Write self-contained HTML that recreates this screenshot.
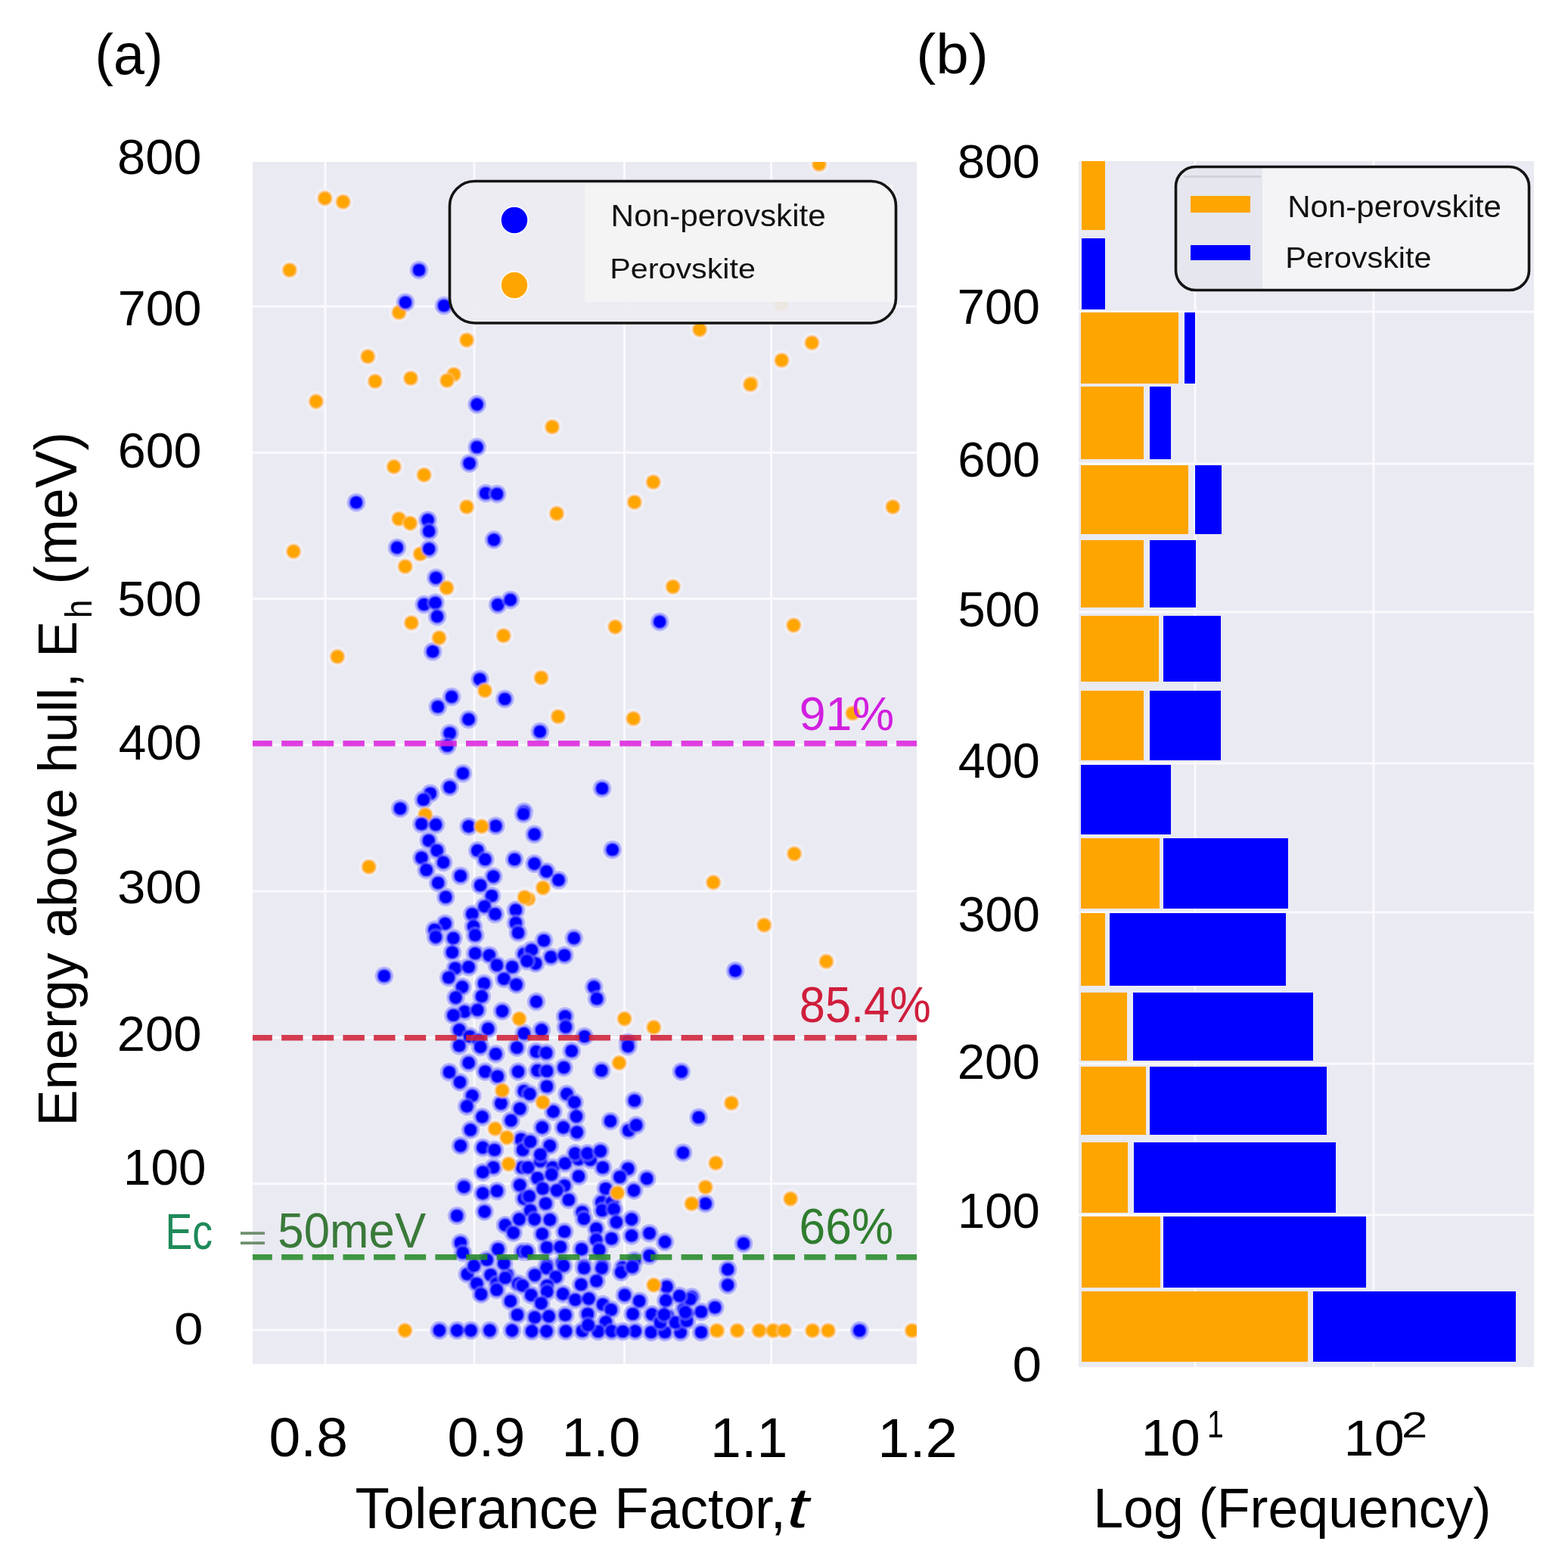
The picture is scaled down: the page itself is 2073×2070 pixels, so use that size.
<!DOCTYPE html><html><head><meta charset="utf-8"><title>Tolerance factor vs energy above hull</title><style>html,body{margin:0;padding:0;background:#fff;}svg{display:block;}</style></head><body>
<svg xmlns="http://www.w3.org/2000/svg" width="2073" height="2070" viewBox="0 0 2073 2070">
<rect width="2073" height="2070" fill="#ffffff"/>
<defs><clipPath id="ca"><rect x="334" y="214" width="878" height="1589"/></clipPath><filter id="blur1" x="-5%" y="-5%" width="110%" height="110%"><feGaussianBlur stdDeviation="1.1"/></filter><clipPath id="cb"><rect x="1426" y="213" width="602" height="1594"/></clipPath></defs>
<rect x="334" y="214" width="878" height="1589" fill="#eaeaf2"/>
<g stroke="#fafafd" stroke-width="3" clip-path="url(#ca)">
<line x1="430" y1="214" x2="430" y2="1803"/>
<line x1="627" y1="214" x2="627" y2="1803"/>
<line x1="825.5" y1="214" x2="825.5" y2="1803"/>
<line x1="1019.5" y1="214" x2="1019.5" y2="1803"/>
<line x1="334" y1="1758.0" x2="1212" y2="1758.0"/>
<line x1="334" y1="1564.7" x2="1212" y2="1564.7"/>
<line x1="334" y1="1371.4" x2="1212" y2="1371.4"/>
<line x1="334" y1="1178.1" x2="1212" y2="1178.1"/>
<line x1="334" y1="984.8" x2="1212" y2="984.8"/>
<line x1="334" y1="791.5" x2="1212" y2="791.5"/>
<line x1="334" y1="598.2" x2="1212" y2="598.2"/>
<line x1="334" y1="404.9" x2="1212" y2="404.9"/>
</g>
<g clip-path="url(#ca)" fill="#f4f4ff" opacity="0.6">
<circle cx="429.5" cy="262.1" r="13.5"/>
<circle cx="453.6" cy="266.8" r="13.5"/>
<circle cx="382.9" cy="357.0" r="13.5"/>
<circle cx="527.5" cy="413.0" r="13.5"/>
<circle cx="617.0" cy="449.5" r="13.5"/>
<circle cx="486.3" cy="471.3" r="13.5"/>
<circle cx="496.0" cy="504.0" r="13.5"/>
<circle cx="543.0" cy="500.0" r="13.5"/>
<circle cx="600.0" cy="495.0" r="13.5"/>
<circle cx="591.0" cy="503.0" r="13.5"/>
<circle cx="554.0" cy="357.0" r="13.5"/>
<circle cx="536.0" cy="399.7" r="13.5"/>
<circle cx="587.0" cy="404.0" r="13.5"/>
<circle cx="1083.0" cy="217.0" r="13.5"/>
<circle cx="1073.4" cy="453.0" r="13.5"/>
<circle cx="1033.5" cy="476.2" r="13.5"/>
<circle cx="992.9" cy="507.0" r="13.5"/>
<circle cx="925.0" cy="435.6" r="13.5"/>
<circle cx="1032.7" cy="402.4" r="13.5"/>
<circle cx="730.1" cy="564.2" r="13.5"/>
<circle cx="736.0" cy="678.7" r="13.5"/>
<circle cx="838.8" cy="663.8" r="13.5"/>
<circle cx="863.7" cy="637.2" r="13.5"/>
<circle cx="617.0" cy="670.0" r="13.5"/>
<circle cx="630.6" cy="534.6" r="13.5"/>
<circle cx="630.6" cy="591.0" r="13.5"/>
<circle cx="620.6" cy="612.5" r="13.5"/>
<circle cx="642.2" cy="652.0" r="13.5"/>
<circle cx="657.1" cy="653.0" r="13.5"/>
<circle cx="653.0" cy="713.5" r="13.5"/>
<circle cx="417.9" cy="530.6" r="13.5"/>
<circle cx="520.8" cy="616.9" r="13.5"/>
<circle cx="560.6" cy="627.7" r="13.5"/>
<circle cx="527.4" cy="685.8" r="13.5"/>
<circle cx="542.3" cy="691.6" r="13.5"/>
<circle cx="555.6" cy="732.2" r="13.5"/>
<circle cx="535.7" cy="748.8" r="13.5"/>
<circle cx="388.1" cy="728.9" r="13.5"/>
<circle cx="590.5" cy="777.0" r="13.5"/>
<circle cx="471.0" cy="664.2" r="13.5"/>
<circle cx="565.6" cy="687.4" r="13.5"/>
<circle cx="567.2" cy="702.3" r="13.5"/>
<circle cx="524.9" cy="723.9" r="13.5"/>
<circle cx="567.2" cy="725.6" r="13.5"/>
<circle cx="576.4" cy="763.7" r="13.5"/>
<circle cx="560.6" cy="799.0" r="13.5"/>
<circle cx="575.5" cy="796.8" r="13.5"/>
<circle cx="578.0" cy="814.9" r="13.5"/>
<circle cx="572.2" cy="861.3" r="13.5"/>
<circle cx="634.4" cy="897.8" r="13.5"/>
<circle cx="597.1" cy="921.1" r="13.5"/>
<circle cx="578.8" cy="934.3" r="13.5"/>
<circle cx="619.5" cy="950.9" r="13.5"/>
<circle cx="594.6" cy="969.2" r="13.5"/>
<circle cx="591.3" cy="985.8" r="13.5"/>
<circle cx="612.0" cy="1022.3" r="13.5"/>
<circle cx="594.6" cy="1040.5" r="13.5"/>
<circle cx="568.9" cy="1048.8" r="13.5"/>
<circle cx="559.8" cy="1057.1" r="13.5"/>
<circle cx="529.1" cy="1068.7" r="13.5"/>
<circle cx="544.0" cy="823.2" r="13.5"/>
<circle cx="580.5" cy="843.1" r="13.5"/>
<circle cx="446.1" cy="868.0" r="13.5"/>
<circle cx="641.0" cy="912.8" r="13.5"/>
<circle cx="562.3" cy="1077.0" r="13.5"/>
<circle cx="658.2" cy="799.5" r="13.5"/>
<circle cx="674.8" cy="792.9" r="13.5"/>
<circle cx="872.2" cy="821.9" r="13.5"/>
<circle cx="667.4" cy="924.0" r="13.5"/>
<circle cx="713.8" cy="967.1" r="13.5"/>
<circle cx="665.7" cy="840.2" r="13.5"/>
<circle cx="889.7" cy="775.5" r="13.5"/>
<circle cx="813.4" cy="828.6" r="13.5"/>
<circle cx="715.5" cy="895.8" r="13.5"/>
<circle cx="737.9" cy="947.2" r="13.5"/>
<circle cx="837.4" cy="949.7" r="13.5"/>
<circle cx="992.0" cy="508.3" r="13.5"/>
<circle cx="1180.4" cy="670.0" r="13.5"/>
<circle cx="1049.3" cy="826.5" r="13.5"/>
<circle cx="1127.3" cy="942.7" r="13.5"/>
<circle cx="1050.1" cy="1128.5" r="13.5"/>
<circle cx="943.1" cy="1166.4" r="13.5"/>
<circle cx="1010.3" cy="1222.8" r="13.5"/>
<circle cx="1092.4" cy="1270.9" r="13.5"/>
<circle cx="972.2" cy="1283.3" r="13.5"/>
<circle cx="487.7" cy="1145.8" r="13.5"/>
<circle cx="507.9" cy="1290.0" r="13.5"/>
<circle cx="706.5" cy="1102.8" r="13.5"/>
<circle cx="706.5" cy="1141.6" r="13.5"/>
<circle cx="722.5" cy="1151.9" r="13.5"/>
<circle cx="738.5" cy="1163.3" r="13.5"/>
<circle cx="717.9" cy="1173.5" r="13.5"/>
<circle cx="698.5" cy="1188.3" r="13.5"/>
<circle cx="796.0" cy="1042.2" r="13.5"/>
<circle cx="809.7" cy="1123.2" r="13.5"/>
<circle cx="692.8" cy="1073.0" r="13.5"/>
<circle cx="864.3" cy="1357.9" r="13.5"/>
<circle cx="900.8" cy="1416.5" r="13.5"/>
<circle cx="923.6" cy="1477.0" r="13.5"/>
<circle cx="903.1" cy="1523.7" r="13.5"/>
<circle cx="855.2" cy="1557.9" r="13.5"/>
<circle cx="932.7" cy="1591.0" r="13.5"/>
<circle cx="946.4" cy="1537.4" r="13.5"/>
<circle cx="932.7" cy="1569.3" r="13.5"/>
<circle cx="914.5" cy="1591.0" r="13.5"/>
<circle cx="617.8" cy="1684.2" r="13.5"/>
<circle cx="648.6" cy="1685.3" r="13.5"/>
<circle cx="670.3" cy="1685.3" r="13.5"/>
<circle cx="630.4" cy="1696.7" r="13.5"/>
<circle cx="656.6" cy="1696.7" r="13.5"/>
<circle cx="685.1" cy="1696.7" r="13.5"/>
<circle cx="858.6" cy="1630.2" r="13.5"/>
<circle cx="879.1" cy="1641.6" r="13.5"/>
<circle cx="858.6" cy="1659.8" r="13.5"/>
<circle cx="881.4" cy="1700.9" r="13.5"/>
<circle cx="880.3" cy="1719.1" r="13.5"/>
<circle cx="914.5" cy="1714.6" r="13.5"/>
<circle cx="945.3" cy="1728.3" r="13.5"/>
<circle cx="927.0" cy="1734.0" r="13.5"/>
<circle cx="904.2" cy="1730.5" r="13.5"/>
<circle cx="862.0" cy="1737.4" r="13.5"/>
<circle cx="882.6" cy="1739.7" r="13.5"/>
<circle cx="864.3" cy="1698.6" r="13.5"/>
<circle cx="535.4" cy="1758.6" r="13.5"/>
<circle cx="580.9" cy="1758.6" r="13.5"/>
<circle cx="604.3" cy="1758.6" r="13.5"/>
<circle cx="622.5" cy="1758.6" r="13.5"/>
<circle cx="647.5" cy="1758.6" r="13.5"/>
<circle cx="677.0" cy="1758.6" r="13.5"/>
<circle cx="684.0" cy="1738.0" r="13.5"/>
<circle cx="636.1" cy="1710.7" r="13.5"/>
<circle cx="656.6" cy="1705.0" r="13.5"/>
<circle cx="674.9" cy="1719.9" r="13.5"/>
<circle cx="690.8" cy="1699.4" r="13.5"/>
<circle cx="668.0" cy="1689.1" r="13.5"/>
<circle cx="860.9" cy="1761.0" r="13.5"/>
<circle cx="879.1" cy="1761.0" r="13.5"/>
<circle cx="899.7" cy="1761.0" r="13.5"/>
<circle cx="927.0" cy="1761.0" r="13.5"/>
<circle cx="948.7" cy="1759.0" r="13.5"/>
<circle cx="967.0" cy="1458.0" r="13.5"/>
<circle cx="1045.2" cy="1584.6" r="13.5"/>
<circle cx="947.7" cy="1758.8" r="13.5"/>
<circle cx="974.7" cy="1758.8" r="13.5"/>
<circle cx="1003.7" cy="1758.8" r="13.5"/>
<circle cx="1022.4" cy="1758.8" r="13.5"/>
<circle cx="1036.9" cy="1758.8" r="13.5"/>
<circle cx="1074.2" cy="1758.8" r="13.5"/>
<circle cx="1094.9" cy="1758.8" r="13.5"/>
<circle cx="1205.9" cy="1758.8" r="13.5"/>
<circle cx="983.0" cy="1643.7" r="13.5"/>
<circle cx="962.2" cy="1677.9" r="13.5"/>
<circle cx="962.2" cy="1698.6" r="13.5"/>
<circle cx="912.4" cy="1717.3" r="13.5"/>
<circle cx="908.3" cy="1736.0" r="13.5"/>
<circle cx="1136.4" cy="1758.8" r="13.5"/>
<circle cx="873.0" cy="1748.0" r="13.5"/>
<circle cx="893.0" cy="1748.0" r="13.5"/>
<circle cx="908.0" cy="1746.0" r="13.5"/>
<circle cx="898.3" cy="1713.0" r="13.5"/>
<circle cx="878.0" cy="1737.6" r="13.5"/>
<circle cx="906.0" cy="1734.5" r="13.5"/>
<circle cx="557.4" cy="1089.3" r="13.5"/>
<circle cx="576.1" cy="1090.1" r="13.5"/>
<circle cx="619.6" cy="1092.4" r="13.5"/>
<circle cx="655.4" cy="1091.7" r="13.5"/>
<circle cx="692.0" cy="1076.0" r="13.5"/>
<circle cx="566.8" cy="1111.1" r="13.5"/>
<circle cx="557.4" cy="1133.7" r="13.5"/>
<circle cx="577.7" cy="1124.3" r="13.5"/>
<circle cx="586.2" cy="1139.9" r="13.5"/>
<circle cx="563.7" cy="1150.0" r="13.5"/>
<circle cx="631.3" cy="1124.3" r="13.5"/>
<circle cx="641.4" cy="1136.0" r="13.5"/>
<circle cx="680.3" cy="1136.0" r="13.5"/>
<circle cx="608.8" cy="1157.8" r="13.5"/>
<circle cx="652.3" cy="1158.5" r="13.5"/>
<circle cx="579.2" cy="1167.1" r="13.5"/>
<circle cx="635.2" cy="1170.2" r="13.5"/>
<circle cx="589.3" cy="1185.8" r="13.5"/>
<circle cx="650.0" cy="1184.2" r="13.5"/>
<circle cx="640.6" cy="1198.2" r="13.5"/>
<circle cx="681.9" cy="1202.9" r="13.5"/>
<circle cx="654.6" cy="1208.3" r="13.5"/>
<circle cx="624.3" cy="1208.3" r="13.5"/>
<circle cx="588.5" cy="1220.7" r="13.5"/>
<circle cx="681.9" cy="1220.0" r="13.5"/>
<circle cx="625.9" cy="1224.6" r="13.5"/>
<circle cx="574.5" cy="1229.0" r="13.5"/>
<circle cx="636.8" cy="1092.4" r="13.5"/>
<circle cx="693.5" cy="1186.0" r="13.5"/>
<circle cx="652.3" cy="1543.2" r="13.5"/>
<circle cx="638.3" cy="1549.4" r="13.5"/>
<circle cx="690.4" cy="1543.2" r="13.5"/>
<circle cx="613.4" cy="1568.9" r="13.5"/>
<circle cx="638.3" cy="1577.4" r="13.5"/>
<circle cx="657.0" cy="1574.3" r="13.5"/>
<circle cx="687.3" cy="1566.5" r="13.5"/>
<circle cx="692.7" cy="1584.4" r="13.5"/>
<circle cx="604.1" cy="1607.0" r="13.5"/>
<circle cx="640.6" cy="1601.5" r="13.5"/>
<circle cx="667.9" cy="1619.4" r="13.5"/>
<circle cx="678.7" cy="1629.5" r="13.5"/>
<circle cx="686.5" cy="1611.6" r="13.5"/>
<circle cx="608.8" cy="1642.8" r="13.5"/>
<circle cx="611.9" cy="1656.0" r="13.5"/>
<circle cx="658.5" cy="1651.3" r="13.5"/>
<circle cx="691.2" cy="1654.4" r="13.5"/>
<circle cx="626.6" cy="1673.1" r="13.5"/>
<circle cx="643.8" cy="1665.3" r="13.5"/>
<circle cx="666.3" cy="1670.0" r="13.5"/>
<circle cx="672.5" cy="1538.6" r="13.5"/>
<circle cx="698.1" cy="1543.2" r="13.5"/>
<circle cx="714.4" cy="1534.7" r="13.5"/>
<circle cx="730.8" cy="1543.2" r="13.5"/>
<circle cx="747.1" cy="1537.8" r="13.5"/>
<circle cx="765.0" cy="1532.3" r="13.5"/>
<circle cx="780.5" cy="1533.1" r="13.5"/>
<circle cx="796.9" cy="1543.2" r="13.5"/>
<circle cx="830.3" cy="1544.8" r="13.5"/>
<circle cx="710.6" cy="1557.2" r="13.5"/>
<circle cx="729.2" cy="1552.5" r="13.5"/>
<circle cx="765.0" cy="1554.9" r="13.5"/>
<circle cx="819.4" cy="1555.7" r="13.5"/>
<circle cx="717.6" cy="1571.2" r="13.5"/>
<circle cx="746.3" cy="1567.3" r="13.5"/>
<circle cx="800.8" cy="1571.2" r="13.5"/>
<circle cx="838.1" cy="1573.5" r="13.5"/>
<circle cx="736.2" cy="1573.5" r="13.5"/>
<circle cx="699.7" cy="1581.3" r="13.5"/>
<circle cx="751.8" cy="1586.0" r="13.5"/>
<circle cx="721.4" cy="1590.7" r="13.5"/>
<circle cx="795.3" cy="1589.1" r="13.5"/>
<circle cx="809.3" cy="1589.1" r="13.5"/>
<circle cx="701.2" cy="1600.0" r="13.5"/>
<circle cx="769.7" cy="1602.3" r="13.5"/>
<circle cx="796.1" cy="1600.0" r="13.5"/>
<circle cx="811.6" cy="1598.4" r="13.5"/>
<circle cx="706.7" cy="1611.6" r="13.5"/>
<circle cx="726.9" cy="1612.4" r="13.5"/>
<circle cx="772.0" cy="1610.9" r="13.5"/>
<circle cx="814.8" cy="1615.5" r="13.5"/>
<circle cx="835.0" cy="1611.6" r="13.5"/>
<circle cx="716.8" cy="1631.1" r="13.5"/>
<circle cx="746.3" cy="1628.0" r="13.5"/>
<circle cx="788.3" cy="1624.1" r="13.5"/>
<circle cx="808.5" cy="1637.3" r="13.5"/>
<circle cx="835.0" cy="1633.4" r="13.5"/>
<circle cx="788.3" cy="1638.9" r="13.5"/>
<circle cx="723.0" cy="1649.0" r="13.5"/>
<circle cx="740.9" cy="1648.2" r="13.5"/>
<circle cx="768.9" cy="1651.3" r="13.5"/>
<circle cx="792.2" cy="1652.1" r="13.5"/>
<circle cx="696.6" cy="1654.4" r="13.5"/>
<circle cx="723.0" cy="1673.1" r="13.5"/>
<circle cx="743.2" cy="1670.0" r="13.5"/>
<circle cx="772.0" cy="1673.9" r="13.5"/>
<circle cx="796.1" cy="1673.9" r="13.5"/>
<circle cx="823.3" cy="1675.4" r="13.5"/>
<circle cx="838.9" cy="1666.1" r="13.5"/>
<circle cx="816.3" cy="1576.7" r="13.5"/>
<circle cx="576.1" cy="1238.6" r="13.5"/>
<circle cx="599.4" cy="1240.1" r="13.5"/>
<circle cx="628.2" cy="1236.2" r="13.5"/>
<circle cx="597.9" cy="1258.8" r="13.5"/>
<circle cx="628.2" cy="1260.3" r="13.5"/>
<circle cx="646.9" cy="1262.7" r="13.5"/>
<circle cx="692.7" cy="1261.1" r="13.5"/>
<circle cx="601.8" cy="1279.8" r="13.5"/>
<circle cx="619.6" cy="1278.2" r="13.5"/>
<circle cx="657.0" cy="1275.9" r="13.5"/>
<circle cx="677.2" cy="1278.2" r="13.5"/>
<circle cx="593.2" cy="1292.2" r="13.5"/>
<circle cx="639.9" cy="1300.0" r="13.5"/>
<circle cx="666.3" cy="1293.8" r="13.5"/>
<circle cx="682.6" cy="1301.5" r="13.5"/>
<circle cx="611.1" cy="1304.6" r="13.5"/>
<circle cx="602.5" cy="1318.6" r="13.5"/>
<circle cx="636.8" cy="1317.1" r="13.5"/>
<circle cx="614.2" cy="1337.3" r="13.5"/>
<circle cx="664.0" cy="1336.5" r="13.5"/>
<circle cx="599.4" cy="1342.0" r="13.5"/>
<circle cx="631.3" cy="1335.0" r="13.5"/>
<circle cx="607.2" cy="1361.4" r="13.5"/>
<circle cx="645.3" cy="1359.9" r="13.5"/>
<circle cx="621.2" cy="1370.0" r="13.5"/>
<circle cx="692.7" cy="1366.1" r="13.5"/>
<circle cx="632.9" cy="1375.4" r="13.5"/>
<circle cx="685.0" cy="1233.0" r="13.5"/>
<circle cx="686.5" cy="1346.6" r="13.5"/>
<circle cx="719.1" cy="1243.2" r="13.5"/>
<circle cx="758.8" cy="1240.1" r="13.5"/>
<circle cx="702.8" cy="1255.7" r="13.5"/>
<circle cx="728.4" cy="1265.0" r="13.5"/>
<circle cx="746.3" cy="1262.7" r="13.5"/>
<circle cx="708.2" cy="1273.5" r="13.5"/>
<circle cx="696.6" cy="1270.4" r="13.5"/>
<circle cx="785.2" cy="1304.6" r="13.5"/>
<circle cx="789.1" cy="1320.2" r="13.5"/>
<circle cx="709.0" cy="1324.1" r="13.5"/>
<circle cx="747.1" cy="1343.5" r="13.5"/>
<circle cx="747.9" cy="1357.5" r="13.5"/>
<circle cx="716.0" cy="1361.4" r="13.5"/>
<circle cx="772.8" cy="1370.0" r="13.5"/>
<circle cx="830.1" cy="1378.0" r="13.5"/>
<circle cx="825.6" cy="1346.6" r="13.5"/>
<circle cx="607.2" cy="1382.3" r="13.5"/>
<circle cx="635.2" cy="1383.9" r="13.5"/>
<circle cx="655.4" cy="1393.2" r="13.5"/>
<circle cx="683.4" cy="1384.7" r="13.5"/>
<circle cx="619.6" cy="1404.9" r="13.5"/>
<circle cx="594.0" cy="1417.3" r="13.5"/>
<circle cx="641.4" cy="1416.5" r="13.5"/>
<circle cx="657.8" cy="1422.8" r="13.5"/>
<circle cx="685.0" cy="1416.5" r="13.5"/>
<circle cx="608.0" cy="1430.5" r="13.5"/>
<circle cx="624.3" cy="1448.4" r="13.5"/>
<circle cx="662.4" cy="1458.5" r="13.5"/>
<circle cx="687.3" cy="1465.5" r="13.5"/>
<circle cx="692.7" cy="1442.2" r="13.5"/>
<circle cx="617.3" cy="1462.4" r="13.5"/>
<circle cx="637.5" cy="1476.4" r="13.5"/>
<circle cx="675.6" cy="1481.1" r="13.5"/>
<circle cx="622.0" cy="1493.5" r="13.5"/>
<circle cx="688.9" cy="1506.0" r="13.5"/>
<circle cx="608.8" cy="1514.5" r="13.5"/>
<circle cx="638.3" cy="1516.9" r="13.5"/>
<circle cx="653.9" cy="1520.0" r="13.5"/>
<circle cx="691.2" cy="1520.0" r="13.5"/>
<circle cx="664.0" cy="1441.4" r="13.5"/>
<circle cx="654.6" cy="1492.0" r="13.5"/>
<circle cx="670.2" cy="1503.6" r="13.5"/>
<circle cx="709.0" cy="1390.1" r="13.5"/>
<circle cx="722.2" cy="1391.7" r="13.5"/>
<circle cx="755.7" cy="1389.3" r="13.5"/>
<circle cx="830.3" cy="1383.1" r="13.5"/>
<circle cx="795.3" cy="1415.0" r="13.5"/>
<circle cx="710.6" cy="1415.0" r="13.5"/>
<circle cx="723.0" cy="1415.8" r="13.5"/>
<circle cx="745.5" cy="1411.1" r="13.5"/>
<circle cx="723.0" cy="1436.0" r="13.5"/>
<circle cx="700.4" cy="1446.1" r="13.5"/>
<circle cx="749.4" cy="1446.1" r="13.5"/>
<circle cx="759.5" cy="1457.0" r="13.5"/>
<circle cx="731.5" cy="1469.4" r="13.5"/>
<circle cx="761.9" cy="1475.6" r="13.5"/>
<circle cx="838.9" cy="1454.7" r="13.5"/>
<circle cx="807.0" cy="1481.9" r="13.5"/>
<circle cx="716.8" cy="1490.4" r="13.5"/>
<circle cx="744.8" cy="1490.4" r="13.5"/>
<circle cx="762.7" cy="1496.6" r="13.5"/>
<circle cx="831.1" cy="1494.3" r="13.5"/>
<circle cx="841.2" cy="1487.3" r="13.5"/>
<circle cx="701.2" cy="1509.1" r="13.5"/>
<circle cx="726.9" cy="1514.5" r="13.5"/>
<circle cx="760.3" cy="1524.6" r="13.5"/>
<circle cx="776.6" cy="1524.6" r="13.5"/>
<circle cx="793.8" cy="1521.5" r="13.5"/>
<circle cx="714.4" cy="1526.2" r="13.5"/>
<circle cx="818.6" cy="1404.9" r="13.5"/>
<circle cx="717.6" cy="1457.0" r="13.5"/>
<circle cx="722.5" cy="1676.2" r="13.5"/>
<circle cx="745.0" cy="1673.1" r="13.5"/>
<circle cx="772.2" cy="1676.2" r="13.5"/>
<circle cx="795.5" cy="1676.2" r="13.5"/>
<circle cx="821.1" cy="1681.6" r="13.5"/>
<circle cx="835.9" cy="1674.7" r="13.5"/>
<circle cx="734.9" cy="1687.9" r="13.5"/>
<circle cx="768.3" cy="1698.0" r="13.5"/>
<circle cx="788.5" cy="1693.3" r="13.5"/>
<circle cx="723.3" cy="1699.5" r="13.5"/>
<circle cx="707.0" cy="1685.5" r="13.5"/>
<circle cx="723.3" cy="1707.3" r="13.5"/>
<circle cx="744.3" cy="1710.4" r="13.5"/>
<circle cx="760.6" cy="1718.1" r="13.5"/>
<circle cx="778.4" cy="1716.6" r="13.5"/>
<circle cx="797.0" cy="1724.3" r="13.5"/>
<circle cx="825.8" cy="1711.9" r="13.5"/>
<circle cx="845.2" cy="1719.7" r="13.5"/>
<circle cx="702.3" cy="1711.9" r="13.5"/>
<circle cx="715.5" cy="1722.8" r="13.5"/>
<circle cx="707.0" cy="1741.4" r="13.5"/>
<circle cx="725.6" cy="1739.9" r="13.5"/>
<circle cx="747.4" cy="1738.3" r="13.5"/>
<circle cx="776.9" cy="1736.8" r="13.5"/>
<circle cx="807.9" cy="1731.3" r="13.5"/>
<circle cx="836.6" cy="1736.8" r="13.5"/>
<circle cx="800.9" cy="1747.6" r="13.5"/>
<circle cx="703.1" cy="1759.6" r="13.5"/>
<circle cx="722.5" cy="1759.6" r="13.5"/>
<circle cx="748.1" cy="1759.6" r="13.5"/>
<circle cx="769.9" cy="1759.3" r="13.5"/>
<circle cx="790.8" cy="1760.0" r="13.5"/>
<circle cx="808.7" cy="1759.6" r="13.5"/>
<circle cx="839.8" cy="1759.6" r="13.5"/>
<circle cx="823.4" cy="1760.0" r="13.5"/>
<circle cx="777.6" cy="1751.5" r="13.5"/>
</g>
<g clip-path="url(#ca)" fill="#3030ff" opacity="0.28">
<circle cx="554.0" cy="357.0" r="12.5"/>
<circle cx="536.0" cy="399.7" r="12.5"/>
<circle cx="587.0" cy="404.0" r="12.5"/>
<circle cx="630.6" cy="534.6" r="12.5"/>
<circle cx="630.6" cy="591.0" r="12.5"/>
<circle cx="620.6" cy="612.5" r="12.5"/>
<circle cx="642.2" cy="652.0" r="12.5"/>
<circle cx="657.1" cy="653.0" r="12.5"/>
<circle cx="653.0" cy="713.5" r="12.5"/>
<circle cx="471.0" cy="664.2" r="12.5"/>
<circle cx="565.6" cy="687.4" r="12.5"/>
<circle cx="567.2" cy="702.3" r="12.5"/>
<circle cx="524.9" cy="723.9" r="12.5"/>
<circle cx="567.2" cy="725.6" r="12.5"/>
<circle cx="576.4" cy="763.7" r="12.5"/>
<circle cx="560.6" cy="799.0" r="12.5"/>
<circle cx="575.5" cy="796.8" r="12.5"/>
<circle cx="578.0" cy="814.9" r="12.5"/>
<circle cx="572.2" cy="861.3" r="12.5"/>
<circle cx="634.4" cy="897.8" r="12.5"/>
<circle cx="597.1" cy="921.1" r="12.5"/>
<circle cx="578.8" cy="934.3" r="12.5"/>
<circle cx="619.5" cy="950.9" r="12.5"/>
<circle cx="594.6" cy="969.2" r="12.5"/>
<circle cx="591.3" cy="985.8" r="12.5"/>
<circle cx="612.0" cy="1022.3" r="12.5"/>
<circle cx="594.6" cy="1040.5" r="12.5"/>
<circle cx="568.9" cy="1048.8" r="12.5"/>
<circle cx="559.8" cy="1057.1" r="12.5"/>
<circle cx="529.1" cy="1068.7" r="12.5"/>
<circle cx="658.2" cy="799.5" r="12.5"/>
<circle cx="674.8" cy="792.9" r="12.5"/>
<circle cx="872.2" cy="821.9" r="12.5"/>
<circle cx="667.4" cy="924.0" r="12.5"/>
<circle cx="713.8" cy="967.1" r="12.5"/>
<circle cx="972.2" cy="1283.3" r="12.5"/>
<circle cx="507.9" cy="1290.0" r="12.5"/>
<circle cx="706.5" cy="1102.8" r="12.5"/>
<circle cx="706.5" cy="1141.6" r="12.5"/>
<circle cx="722.5" cy="1151.9" r="12.5"/>
<circle cx="738.5" cy="1163.3" r="12.5"/>
<circle cx="796.0" cy="1042.2" r="12.5"/>
<circle cx="809.7" cy="1123.2" r="12.5"/>
<circle cx="692.8" cy="1073.0" r="12.5"/>
<circle cx="900.8" cy="1416.5" r="12.5"/>
<circle cx="923.6" cy="1477.0" r="12.5"/>
<circle cx="903.1" cy="1523.7" r="12.5"/>
<circle cx="855.2" cy="1557.9" r="12.5"/>
<circle cx="932.7" cy="1591.0" r="12.5"/>
<circle cx="617.8" cy="1684.2" r="12.5"/>
<circle cx="648.6" cy="1685.3" r="12.5"/>
<circle cx="670.3" cy="1685.3" r="12.5"/>
<circle cx="630.4" cy="1696.7" r="12.5"/>
<circle cx="656.6" cy="1696.7" r="12.5"/>
<circle cx="685.1" cy="1696.7" r="12.5"/>
<circle cx="858.6" cy="1630.2" r="12.5"/>
<circle cx="879.1" cy="1641.6" r="12.5"/>
<circle cx="858.6" cy="1659.8" r="12.5"/>
<circle cx="881.4" cy="1700.9" r="12.5"/>
<circle cx="880.3" cy="1719.1" r="12.5"/>
<circle cx="914.5" cy="1714.6" r="12.5"/>
<circle cx="945.3" cy="1728.3" r="12.5"/>
<circle cx="927.0" cy="1734.0" r="12.5"/>
<circle cx="904.2" cy="1730.5" r="12.5"/>
<circle cx="862.0" cy="1737.4" r="12.5"/>
<circle cx="882.6" cy="1739.7" r="12.5"/>
<circle cx="580.9" cy="1758.6" r="12.5"/>
<circle cx="604.3" cy="1758.6" r="12.5"/>
<circle cx="622.5" cy="1758.6" r="12.5"/>
<circle cx="647.5" cy="1758.6" r="12.5"/>
<circle cx="677.0" cy="1758.6" r="12.5"/>
<circle cx="684.0" cy="1738.0" r="12.5"/>
<circle cx="636.1" cy="1710.7" r="12.5"/>
<circle cx="656.6" cy="1705.0" r="12.5"/>
<circle cx="674.9" cy="1719.9" r="12.5"/>
<circle cx="690.8" cy="1699.4" r="12.5"/>
<circle cx="668.0" cy="1689.1" r="12.5"/>
<circle cx="860.9" cy="1761.0" r="12.5"/>
<circle cx="879.1" cy="1761.0" r="12.5"/>
<circle cx="899.7" cy="1761.0" r="12.5"/>
<circle cx="927.0" cy="1761.0" r="12.5"/>
<circle cx="983.0" cy="1643.7" r="12.5"/>
<circle cx="962.2" cy="1677.9" r="12.5"/>
<circle cx="962.2" cy="1698.6" r="12.5"/>
<circle cx="912.4" cy="1717.3" r="12.5"/>
<circle cx="908.3" cy="1736.0" r="12.5"/>
<circle cx="1136.4" cy="1758.8" r="12.5"/>
<circle cx="873.0" cy="1748.0" r="12.5"/>
<circle cx="893.0" cy="1748.0" r="12.5"/>
<circle cx="908.0" cy="1746.0" r="12.5"/>
<circle cx="898.3" cy="1713.0" r="12.5"/>
<circle cx="878.0" cy="1737.6" r="12.5"/>
<circle cx="906.0" cy="1734.5" r="12.5"/>
<circle cx="557.4" cy="1089.3" r="12.5"/>
<circle cx="576.1" cy="1090.1" r="12.5"/>
<circle cx="619.6" cy="1092.4" r="12.5"/>
<circle cx="655.4" cy="1091.7" r="12.5"/>
<circle cx="692.0" cy="1076.0" r="12.5"/>
<circle cx="566.8" cy="1111.1" r="12.5"/>
<circle cx="557.4" cy="1133.7" r="12.5"/>
<circle cx="577.7" cy="1124.3" r="12.5"/>
<circle cx="586.2" cy="1139.9" r="12.5"/>
<circle cx="563.7" cy="1150.0" r="12.5"/>
<circle cx="631.3" cy="1124.3" r="12.5"/>
<circle cx="641.4" cy="1136.0" r="12.5"/>
<circle cx="680.3" cy="1136.0" r="12.5"/>
<circle cx="608.8" cy="1157.8" r="12.5"/>
<circle cx="652.3" cy="1158.5" r="12.5"/>
<circle cx="579.2" cy="1167.1" r="12.5"/>
<circle cx="635.2" cy="1170.2" r="12.5"/>
<circle cx="589.3" cy="1185.8" r="12.5"/>
<circle cx="650.0" cy="1184.2" r="12.5"/>
<circle cx="640.6" cy="1198.2" r="12.5"/>
<circle cx="681.9" cy="1202.9" r="12.5"/>
<circle cx="654.6" cy="1208.3" r="12.5"/>
<circle cx="624.3" cy="1208.3" r="12.5"/>
<circle cx="588.5" cy="1220.7" r="12.5"/>
<circle cx="681.9" cy="1220.0" r="12.5"/>
<circle cx="625.9" cy="1224.6" r="12.5"/>
<circle cx="574.5" cy="1229.0" r="12.5"/>
<circle cx="652.3" cy="1543.2" r="12.5"/>
<circle cx="638.3" cy="1549.4" r="12.5"/>
<circle cx="690.4" cy="1543.2" r="12.5"/>
<circle cx="613.4" cy="1568.9" r="12.5"/>
<circle cx="638.3" cy="1577.4" r="12.5"/>
<circle cx="657.0" cy="1574.3" r="12.5"/>
<circle cx="687.3" cy="1566.5" r="12.5"/>
<circle cx="692.7" cy="1584.4" r="12.5"/>
<circle cx="604.1" cy="1607.0" r="12.5"/>
<circle cx="640.6" cy="1601.5" r="12.5"/>
<circle cx="667.9" cy="1619.4" r="12.5"/>
<circle cx="678.7" cy="1629.5" r="12.5"/>
<circle cx="686.5" cy="1611.6" r="12.5"/>
<circle cx="608.8" cy="1642.8" r="12.5"/>
<circle cx="611.9" cy="1656.0" r="12.5"/>
<circle cx="658.5" cy="1651.3" r="12.5"/>
<circle cx="691.2" cy="1654.4" r="12.5"/>
<circle cx="626.6" cy="1673.1" r="12.5"/>
<circle cx="643.8" cy="1665.3" r="12.5"/>
<circle cx="666.3" cy="1670.0" r="12.5"/>
<circle cx="698.1" cy="1543.2" r="12.5"/>
<circle cx="714.4" cy="1534.7" r="12.5"/>
<circle cx="730.8" cy="1543.2" r="12.5"/>
<circle cx="747.1" cy="1537.8" r="12.5"/>
<circle cx="765.0" cy="1532.3" r="12.5"/>
<circle cx="780.5" cy="1533.1" r="12.5"/>
<circle cx="796.9" cy="1543.2" r="12.5"/>
<circle cx="830.3" cy="1544.8" r="12.5"/>
<circle cx="710.6" cy="1557.2" r="12.5"/>
<circle cx="729.2" cy="1552.5" r="12.5"/>
<circle cx="765.0" cy="1554.9" r="12.5"/>
<circle cx="819.4" cy="1555.7" r="12.5"/>
<circle cx="717.6" cy="1571.2" r="12.5"/>
<circle cx="746.3" cy="1567.3" r="12.5"/>
<circle cx="800.8" cy="1571.2" r="12.5"/>
<circle cx="838.1" cy="1573.5" r="12.5"/>
<circle cx="736.2" cy="1573.5" r="12.5"/>
<circle cx="699.7" cy="1581.3" r="12.5"/>
<circle cx="751.8" cy="1586.0" r="12.5"/>
<circle cx="721.4" cy="1590.7" r="12.5"/>
<circle cx="795.3" cy="1589.1" r="12.5"/>
<circle cx="809.3" cy="1589.1" r="12.5"/>
<circle cx="701.2" cy="1600.0" r="12.5"/>
<circle cx="769.7" cy="1602.3" r="12.5"/>
<circle cx="796.1" cy="1600.0" r="12.5"/>
<circle cx="811.6" cy="1598.4" r="12.5"/>
<circle cx="706.7" cy="1611.6" r="12.5"/>
<circle cx="726.9" cy="1612.4" r="12.5"/>
<circle cx="772.0" cy="1610.9" r="12.5"/>
<circle cx="814.8" cy="1615.5" r="12.5"/>
<circle cx="835.0" cy="1611.6" r="12.5"/>
<circle cx="716.8" cy="1631.1" r="12.5"/>
<circle cx="746.3" cy="1628.0" r="12.5"/>
<circle cx="788.3" cy="1624.1" r="12.5"/>
<circle cx="808.5" cy="1637.3" r="12.5"/>
<circle cx="835.0" cy="1633.4" r="12.5"/>
<circle cx="788.3" cy="1638.9" r="12.5"/>
<circle cx="723.0" cy="1649.0" r="12.5"/>
<circle cx="740.9" cy="1648.2" r="12.5"/>
<circle cx="768.9" cy="1651.3" r="12.5"/>
<circle cx="792.2" cy="1652.1" r="12.5"/>
<circle cx="696.6" cy="1654.4" r="12.5"/>
<circle cx="723.0" cy="1673.1" r="12.5"/>
<circle cx="743.2" cy="1670.0" r="12.5"/>
<circle cx="772.0" cy="1673.9" r="12.5"/>
<circle cx="796.1" cy="1673.9" r="12.5"/>
<circle cx="823.3" cy="1675.4" r="12.5"/>
<circle cx="838.9" cy="1666.1" r="12.5"/>
<circle cx="576.1" cy="1238.6" r="12.5"/>
<circle cx="599.4" cy="1240.1" r="12.5"/>
<circle cx="628.2" cy="1236.2" r="12.5"/>
<circle cx="597.9" cy="1258.8" r="12.5"/>
<circle cx="628.2" cy="1260.3" r="12.5"/>
<circle cx="646.9" cy="1262.7" r="12.5"/>
<circle cx="692.7" cy="1261.1" r="12.5"/>
<circle cx="601.8" cy="1279.8" r="12.5"/>
<circle cx="619.6" cy="1278.2" r="12.5"/>
<circle cx="657.0" cy="1275.9" r="12.5"/>
<circle cx="677.2" cy="1278.2" r="12.5"/>
<circle cx="593.2" cy="1292.2" r="12.5"/>
<circle cx="639.9" cy="1300.0" r="12.5"/>
<circle cx="666.3" cy="1293.8" r="12.5"/>
<circle cx="682.6" cy="1301.5" r="12.5"/>
<circle cx="611.1" cy="1304.6" r="12.5"/>
<circle cx="602.5" cy="1318.6" r="12.5"/>
<circle cx="636.8" cy="1317.1" r="12.5"/>
<circle cx="614.2" cy="1337.3" r="12.5"/>
<circle cx="664.0" cy="1336.5" r="12.5"/>
<circle cx="599.4" cy="1342.0" r="12.5"/>
<circle cx="631.3" cy="1335.0" r="12.5"/>
<circle cx="607.2" cy="1361.4" r="12.5"/>
<circle cx="645.3" cy="1359.9" r="12.5"/>
<circle cx="621.2" cy="1370.0" r="12.5"/>
<circle cx="692.7" cy="1366.1" r="12.5"/>
<circle cx="632.9" cy="1375.4" r="12.5"/>
<circle cx="685.0" cy="1233.0" r="12.5"/>
<circle cx="719.1" cy="1243.2" r="12.5"/>
<circle cx="758.8" cy="1240.1" r="12.5"/>
<circle cx="702.8" cy="1255.7" r="12.5"/>
<circle cx="728.4" cy="1265.0" r="12.5"/>
<circle cx="746.3" cy="1262.7" r="12.5"/>
<circle cx="708.2" cy="1273.5" r="12.5"/>
<circle cx="696.6" cy="1270.4" r="12.5"/>
<circle cx="785.2" cy="1304.6" r="12.5"/>
<circle cx="789.1" cy="1320.2" r="12.5"/>
<circle cx="709.0" cy="1324.1" r="12.5"/>
<circle cx="747.1" cy="1343.5" r="12.5"/>
<circle cx="747.9" cy="1357.5" r="12.5"/>
<circle cx="716.0" cy="1361.4" r="12.5"/>
<circle cx="772.8" cy="1370.0" r="12.5"/>
<circle cx="830.1" cy="1378.0" r="12.5"/>
<circle cx="607.2" cy="1382.3" r="12.5"/>
<circle cx="635.2" cy="1383.9" r="12.5"/>
<circle cx="655.4" cy="1393.2" r="12.5"/>
<circle cx="683.4" cy="1384.7" r="12.5"/>
<circle cx="619.6" cy="1404.9" r="12.5"/>
<circle cx="594.0" cy="1417.3" r="12.5"/>
<circle cx="641.4" cy="1416.5" r="12.5"/>
<circle cx="657.8" cy="1422.8" r="12.5"/>
<circle cx="685.0" cy="1416.5" r="12.5"/>
<circle cx="608.0" cy="1430.5" r="12.5"/>
<circle cx="624.3" cy="1448.4" r="12.5"/>
<circle cx="662.4" cy="1458.5" r="12.5"/>
<circle cx="687.3" cy="1465.5" r="12.5"/>
<circle cx="692.7" cy="1442.2" r="12.5"/>
<circle cx="617.3" cy="1462.4" r="12.5"/>
<circle cx="637.5" cy="1476.4" r="12.5"/>
<circle cx="675.6" cy="1481.1" r="12.5"/>
<circle cx="622.0" cy="1493.5" r="12.5"/>
<circle cx="688.9" cy="1506.0" r="12.5"/>
<circle cx="608.8" cy="1514.5" r="12.5"/>
<circle cx="638.3" cy="1516.9" r="12.5"/>
<circle cx="653.9" cy="1520.0" r="12.5"/>
<circle cx="691.2" cy="1520.0" r="12.5"/>
<circle cx="709.0" cy="1390.1" r="12.5"/>
<circle cx="722.2" cy="1391.7" r="12.5"/>
<circle cx="755.7" cy="1389.3" r="12.5"/>
<circle cx="830.3" cy="1383.1" r="12.5"/>
<circle cx="795.3" cy="1415.0" r="12.5"/>
<circle cx="710.6" cy="1415.0" r="12.5"/>
<circle cx="723.0" cy="1415.8" r="12.5"/>
<circle cx="745.5" cy="1411.1" r="12.5"/>
<circle cx="723.0" cy="1436.0" r="12.5"/>
<circle cx="700.4" cy="1446.1" r="12.5"/>
<circle cx="749.4" cy="1446.1" r="12.5"/>
<circle cx="759.5" cy="1457.0" r="12.5"/>
<circle cx="731.5" cy="1469.4" r="12.5"/>
<circle cx="761.9" cy="1475.6" r="12.5"/>
<circle cx="838.9" cy="1454.7" r="12.5"/>
<circle cx="807.0" cy="1481.9" r="12.5"/>
<circle cx="716.8" cy="1490.4" r="12.5"/>
<circle cx="744.8" cy="1490.4" r="12.5"/>
<circle cx="762.7" cy="1496.6" r="12.5"/>
<circle cx="831.1" cy="1494.3" r="12.5"/>
<circle cx="841.2" cy="1487.3" r="12.5"/>
<circle cx="701.2" cy="1509.1" r="12.5"/>
<circle cx="726.9" cy="1514.5" r="12.5"/>
<circle cx="760.3" cy="1524.6" r="12.5"/>
<circle cx="776.6" cy="1524.6" r="12.5"/>
<circle cx="793.8" cy="1521.5" r="12.5"/>
<circle cx="714.4" cy="1526.2" r="12.5"/>
<circle cx="722.5" cy="1676.2" r="12.5"/>
<circle cx="745.0" cy="1673.1" r="12.5"/>
<circle cx="772.2" cy="1676.2" r="12.5"/>
<circle cx="795.5" cy="1676.2" r="12.5"/>
<circle cx="821.1" cy="1681.6" r="12.5"/>
<circle cx="835.9" cy="1674.7" r="12.5"/>
<circle cx="734.9" cy="1687.9" r="12.5"/>
<circle cx="768.3" cy="1698.0" r="12.5"/>
<circle cx="788.5" cy="1693.3" r="12.5"/>
<circle cx="723.3" cy="1699.5" r="12.5"/>
<circle cx="707.0" cy="1685.5" r="12.5"/>
<circle cx="723.3" cy="1707.3" r="12.5"/>
<circle cx="744.3" cy="1710.4" r="12.5"/>
<circle cx="760.6" cy="1718.1" r="12.5"/>
<circle cx="778.4" cy="1716.6" r="12.5"/>
<circle cx="797.0" cy="1724.3" r="12.5"/>
<circle cx="825.8" cy="1711.9" r="12.5"/>
<circle cx="845.2" cy="1719.7" r="12.5"/>
<circle cx="702.3" cy="1711.9" r="12.5"/>
<circle cx="715.5" cy="1722.8" r="12.5"/>
<circle cx="707.0" cy="1741.4" r="12.5"/>
<circle cx="725.6" cy="1739.9" r="12.5"/>
<circle cx="747.4" cy="1738.3" r="12.5"/>
<circle cx="776.9" cy="1736.8" r="12.5"/>
<circle cx="807.9" cy="1731.3" r="12.5"/>
<circle cx="836.6" cy="1736.8" r="12.5"/>
<circle cx="800.9" cy="1747.6" r="12.5"/>
<circle cx="703.1" cy="1759.6" r="12.5"/>
<circle cx="722.5" cy="1759.6" r="12.5"/>
<circle cx="748.1" cy="1759.6" r="12.5"/>
<circle cx="769.9" cy="1759.3" r="12.5"/>
<circle cx="790.8" cy="1760.0" r="12.5"/>
<circle cx="808.7" cy="1759.6" r="12.5"/>
<circle cx="839.8" cy="1759.6" r="12.5"/>
<circle cx="823.4" cy="1760.0" r="12.5"/>
<circle cx="777.6" cy="1751.5" r="12.5"/>
</g>
<g clip-path="url(#ca)"><g filter="url(#blur1)" stroke="#ffffff" stroke-width="1.0" stroke-opacity="0.6">
<circle cx="429.5" cy="262.1" r="9.8" fill="#ffa500"/>
<circle cx="453.6" cy="266.8" r="9.8" fill="#ffa500"/>
<circle cx="382.9" cy="357.0" r="9.8" fill="#ffa500"/>
<circle cx="527.5" cy="413.0" r="9.8" fill="#ffa500"/>
<circle cx="617.0" cy="449.5" r="9.8" fill="#ffa500"/>
<circle cx="486.3" cy="471.3" r="9.8" fill="#ffa500"/>
<circle cx="496.0" cy="504.0" r="9.8" fill="#ffa500"/>
<circle cx="543.0" cy="500.0" r="9.8" fill="#ffa500"/>
<circle cx="600.0" cy="495.0" r="9.8" fill="#ffa500"/>
<circle cx="591.0" cy="503.0" r="9.8" fill="#ffa500"/>
<circle cx="554.0" cy="357.0" r="9.8" fill="#0000ff"/>
<circle cx="536.0" cy="399.7" r="9.8" fill="#0000ff"/>
<circle cx="587.0" cy="404.0" r="9.8" fill="#0000ff"/>
<circle cx="1083.0" cy="217.0" r="9.8" fill="#ffa500"/>
<circle cx="1073.4" cy="453.0" r="9.8" fill="#ffa500"/>
<circle cx="1033.5" cy="476.2" r="9.8" fill="#ffa500"/>
<circle cx="992.9" cy="507.0" r="9.8" fill="#ffa500"/>
<circle cx="925.0" cy="435.6" r="9.8" fill="#ffa500"/>
<circle cx="1032.7" cy="402.4" r="9.8" fill="#ffa500"/>
<circle cx="730.1" cy="564.2" r="9.8" fill="#ffa500"/>
<circle cx="736.0" cy="678.7" r="9.8" fill="#ffa500"/>
<circle cx="838.8" cy="663.8" r="9.8" fill="#ffa500"/>
<circle cx="863.7" cy="637.2" r="9.8" fill="#ffa500"/>
<circle cx="617.0" cy="670.0" r="9.8" fill="#ffa500"/>
<circle cx="630.6" cy="534.6" r="9.8" fill="#0000ff"/>
<circle cx="630.6" cy="591.0" r="9.8" fill="#0000ff"/>
<circle cx="620.6" cy="612.5" r="9.8" fill="#0000ff"/>
<circle cx="642.2" cy="652.0" r="9.8" fill="#0000ff"/>
<circle cx="657.1" cy="653.0" r="9.8" fill="#0000ff"/>
<circle cx="653.0" cy="713.5" r="9.8" fill="#0000ff"/>
<circle cx="417.9" cy="530.6" r="9.8" fill="#ffa500"/>
<circle cx="520.8" cy="616.9" r="9.8" fill="#ffa500"/>
<circle cx="560.6" cy="627.7" r="9.8" fill="#ffa500"/>
<circle cx="527.4" cy="685.8" r="9.8" fill="#ffa500"/>
<circle cx="542.3" cy="691.6" r="9.8" fill="#ffa500"/>
<circle cx="555.6" cy="732.2" r="9.8" fill="#ffa500"/>
<circle cx="535.7" cy="748.8" r="9.8" fill="#ffa500"/>
<circle cx="388.1" cy="728.9" r="9.8" fill="#ffa500"/>
<circle cx="590.5" cy="777.0" r="9.8" fill="#ffa500"/>
<circle cx="471.0" cy="664.2" r="9.8" fill="#0000ff"/>
<circle cx="565.6" cy="687.4" r="9.8" fill="#0000ff"/>
<circle cx="567.2" cy="702.3" r="9.8" fill="#0000ff"/>
<circle cx="524.9" cy="723.9" r="9.8" fill="#0000ff"/>
<circle cx="567.2" cy="725.6" r="9.8" fill="#0000ff"/>
<circle cx="576.4" cy="763.7" r="9.8" fill="#0000ff"/>
<circle cx="560.6" cy="799.0" r="9.8" fill="#0000ff"/>
<circle cx="575.5" cy="796.8" r="9.8" fill="#0000ff"/>
<circle cx="578.0" cy="814.9" r="9.8" fill="#0000ff"/>
<circle cx="572.2" cy="861.3" r="9.8" fill="#0000ff"/>
<circle cx="634.4" cy="897.8" r="9.8" fill="#0000ff"/>
<circle cx="597.1" cy="921.1" r="9.8" fill="#0000ff"/>
<circle cx="578.8" cy="934.3" r="9.8" fill="#0000ff"/>
<circle cx="619.5" cy="950.9" r="9.8" fill="#0000ff"/>
<circle cx="594.6" cy="969.2" r="9.8" fill="#0000ff"/>
<circle cx="591.3" cy="985.8" r="9.8" fill="#0000ff"/>
<circle cx="612.0" cy="1022.3" r="9.8" fill="#0000ff"/>
<circle cx="594.6" cy="1040.5" r="9.8" fill="#0000ff"/>
<circle cx="568.9" cy="1048.8" r="9.8" fill="#0000ff"/>
<circle cx="559.8" cy="1057.1" r="9.8" fill="#0000ff"/>
<circle cx="529.1" cy="1068.7" r="9.8" fill="#0000ff"/>
<circle cx="544.0" cy="823.2" r="9.8" fill="#ffa500"/>
<circle cx="580.5" cy="843.1" r="9.8" fill="#ffa500"/>
<circle cx="446.1" cy="868.0" r="9.8" fill="#ffa500"/>
<circle cx="641.0" cy="912.8" r="9.8" fill="#ffa500"/>
<circle cx="562.3" cy="1077.0" r="9.8" fill="#ffa500"/>
<circle cx="658.2" cy="799.5" r="9.8" fill="#0000ff"/>
<circle cx="674.8" cy="792.9" r="9.8" fill="#0000ff"/>
<circle cx="872.2" cy="821.9" r="9.8" fill="#0000ff"/>
<circle cx="667.4" cy="924.0" r="9.8" fill="#0000ff"/>
<circle cx="713.8" cy="967.1" r="9.8" fill="#0000ff"/>
<circle cx="665.7" cy="840.2" r="9.8" fill="#ffa500"/>
<circle cx="889.7" cy="775.5" r="9.8" fill="#ffa500"/>
<circle cx="813.4" cy="828.6" r="9.8" fill="#ffa500"/>
<circle cx="715.5" cy="895.8" r="9.8" fill="#ffa500"/>
<circle cx="737.9" cy="947.2" r="9.8" fill="#ffa500"/>
<circle cx="837.4" cy="949.7" r="9.8" fill="#ffa500"/>
<circle cx="992.0" cy="508.3" r="9.8" fill="#ffa500"/>
<circle cx="1180.4" cy="670.0" r="9.8" fill="#ffa500"/>
<circle cx="1049.3" cy="826.5" r="9.8" fill="#ffa500"/>
<circle cx="1127.3" cy="942.7" r="9.8" fill="#ffa500"/>
<circle cx="1050.1" cy="1128.5" r="9.8" fill="#ffa500"/>
<circle cx="943.1" cy="1166.4" r="9.8" fill="#ffa500"/>
<circle cx="1010.3" cy="1222.8" r="9.8" fill="#ffa500"/>
<circle cx="1092.4" cy="1270.9" r="9.8" fill="#ffa500"/>
<circle cx="972.2" cy="1283.3" r="9.8" fill="#0000ff"/>
<circle cx="487.7" cy="1145.8" r="9.8" fill="#ffa500"/>
<circle cx="507.9" cy="1290.0" r="9.8" fill="#0000ff"/>
<circle cx="706.5" cy="1102.8" r="9.8" fill="#0000ff"/>
<circle cx="706.5" cy="1141.6" r="9.8" fill="#0000ff"/>
<circle cx="722.5" cy="1151.9" r="9.8" fill="#0000ff"/>
<circle cx="738.5" cy="1163.3" r="9.8" fill="#0000ff"/>
<circle cx="717.9" cy="1173.5" r="9.8" fill="#ffa500"/>
<circle cx="698.5" cy="1188.3" r="9.8" fill="#ffa500"/>
<circle cx="796.0" cy="1042.2" r="9.8" fill="#0000ff"/>
<circle cx="809.7" cy="1123.2" r="9.8" fill="#0000ff"/>
<circle cx="692.8" cy="1073.0" r="9.8" fill="#0000ff"/>
<circle cx="864.3" cy="1357.9" r="9.8" fill="#ffa500"/>
<circle cx="900.8" cy="1416.5" r="9.8" fill="#0000ff"/>
<circle cx="923.6" cy="1477.0" r="9.8" fill="#0000ff"/>
<circle cx="903.1" cy="1523.7" r="9.8" fill="#0000ff"/>
<circle cx="855.2" cy="1557.9" r="9.8" fill="#0000ff"/>
<circle cx="932.7" cy="1591.0" r="9.8" fill="#0000ff"/>
<circle cx="946.4" cy="1537.4" r="9.8" fill="#ffa500"/>
<circle cx="932.7" cy="1569.3" r="9.8" fill="#ffa500"/>
<circle cx="914.5" cy="1591.0" r="9.8" fill="#ffa500"/>
<circle cx="617.8" cy="1684.2" r="9.8" fill="#0000ff"/>
<circle cx="648.6" cy="1685.3" r="9.8" fill="#0000ff"/>
<circle cx="670.3" cy="1685.3" r="9.8" fill="#0000ff"/>
<circle cx="630.4" cy="1696.7" r="9.8" fill="#0000ff"/>
<circle cx="656.6" cy="1696.7" r="9.8" fill="#0000ff"/>
<circle cx="685.1" cy="1696.7" r="9.8" fill="#0000ff"/>
<circle cx="858.6" cy="1630.2" r="9.8" fill="#0000ff"/>
<circle cx="879.1" cy="1641.6" r="9.8" fill="#0000ff"/>
<circle cx="858.6" cy="1659.8" r="9.8" fill="#0000ff"/>
<circle cx="881.4" cy="1700.9" r="9.8" fill="#0000ff"/>
<circle cx="880.3" cy="1719.1" r="9.8" fill="#0000ff"/>
<circle cx="914.5" cy="1714.6" r="9.8" fill="#0000ff"/>
<circle cx="945.3" cy="1728.3" r="9.8" fill="#0000ff"/>
<circle cx="927.0" cy="1734.0" r="9.8" fill="#0000ff"/>
<circle cx="904.2" cy="1730.5" r="9.8" fill="#0000ff"/>
<circle cx="862.0" cy="1737.4" r="9.8" fill="#0000ff"/>
<circle cx="882.6" cy="1739.7" r="9.8" fill="#0000ff"/>
<circle cx="864.3" cy="1698.6" r="9.8" fill="#ffa500"/>
<circle cx="535.4" cy="1758.6" r="9.8" fill="#ffa500"/>
<circle cx="580.9" cy="1758.6" r="9.8" fill="#0000ff"/>
<circle cx="604.3" cy="1758.6" r="9.8" fill="#0000ff"/>
<circle cx="622.5" cy="1758.6" r="9.8" fill="#0000ff"/>
<circle cx="647.5" cy="1758.6" r="9.8" fill="#0000ff"/>
<circle cx="677.0" cy="1758.6" r="9.8" fill="#0000ff"/>
<circle cx="684.0" cy="1738.0" r="9.8" fill="#0000ff"/>
<circle cx="636.1" cy="1710.7" r="9.8" fill="#0000ff"/>
<circle cx="656.6" cy="1705.0" r="9.8" fill="#0000ff"/>
<circle cx="674.9" cy="1719.9" r="9.8" fill="#0000ff"/>
<circle cx="690.8" cy="1699.4" r="9.8" fill="#0000ff"/>
<circle cx="668.0" cy="1689.1" r="9.8" fill="#0000ff"/>
<circle cx="860.9" cy="1761.0" r="9.8" fill="#0000ff"/>
<circle cx="879.1" cy="1761.0" r="9.8" fill="#0000ff"/>
<circle cx="899.7" cy="1761.0" r="9.8" fill="#0000ff"/>
<circle cx="927.0" cy="1761.0" r="9.8" fill="#0000ff"/>
<circle cx="948.7" cy="1759.0" r="9.8" fill="#ffa500"/>
<circle cx="967.0" cy="1458.0" r="9.8" fill="#ffa500"/>
<circle cx="1045.2" cy="1584.6" r="9.8" fill="#ffa500"/>
<circle cx="947.7" cy="1758.8" r="9.8" fill="#ffa500"/>
<circle cx="974.7" cy="1758.8" r="9.8" fill="#ffa500"/>
<circle cx="1003.7" cy="1758.8" r="9.8" fill="#ffa500"/>
<circle cx="1022.4" cy="1758.8" r="9.8" fill="#ffa500"/>
<circle cx="1036.9" cy="1758.8" r="9.8" fill="#ffa500"/>
<circle cx="1074.2" cy="1758.8" r="9.8" fill="#ffa500"/>
<circle cx="1094.9" cy="1758.8" r="9.8" fill="#ffa500"/>
<circle cx="1205.9" cy="1758.8" r="9.8" fill="#ffa500"/>
<circle cx="983.0" cy="1643.7" r="9.8" fill="#0000ff"/>
<circle cx="962.2" cy="1677.9" r="9.8" fill="#0000ff"/>
<circle cx="962.2" cy="1698.6" r="9.8" fill="#0000ff"/>
<circle cx="912.4" cy="1717.3" r="9.8" fill="#0000ff"/>
<circle cx="908.3" cy="1736.0" r="9.8" fill="#0000ff"/>
<circle cx="1136.4" cy="1758.8" r="9.8" fill="#0000ff"/>
<circle cx="873.0" cy="1748.0" r="9.8" fill="#0000ff"/>
<circle cx="893.0" cy="1748.0" r="9.8" fill="#0000ff"/>
<circle cx="908.0" cy="1746.0" r="9.8" fill="#0000ff"/>
<circle cx="898.3" cy="1713.0" r="9.8" fill="#0000ff"/>
<circle cx="878.0" cy="1737.6" r="9.8" fill="#0000ff"/>
<circle cx="906.0" cy="1734.5" r="9.8" fill="#0000ff"/>
<circle cx="557.4" cy="1089.3" r="9.8" fill="#0000ff"/>
<circle cx="576.1" cy="1090.1" r="9.8" fill="#0000ff"/>
<circle cx="619.6" cy="1092.4" r="9.8" fill="#0000ff"/>
<circle cx="655.4" cy="1091.7" r="9.8" fill="#0000ff"/>
<circle cx="692.0" cy="1076.0" r="9.8" fill="#0000ff"/>
<circle cx="566.8" cy="1111.1" r="9.8" fill="#0000ff"/>
<circle cx="557.4" cy="1133.7" r="9.8" fill="#0000ff"/>
<circle cx="577.7" cy="1124.3" r="9.8" fill="#0000ff"/>
<circle cx="586.2" cy="1139.9" r="9.8" fill="#0000ff"/>
<circle cx="563.7" cy="1150.0" r="9.8" fill="#0000ff"/>
<circle cx="631.3" cy="1124.3" r="9.8" fill="#0000ff"/>
<circle cx="641.4" cy="1136.0" r="9.8" fill="#0000ff"/>
<circle cx="680.3" cy="1136.0" r="9.8" fill="#0000ff"/>
<circle cx="608.8" cy="1157.8" r="9.8" fill="#0000ff"/>
<circle cx="652.3" cy="1158.5" r="9.8" fill="#0000ff"/>
<circle cx="579.2" cy="1167.1" r="9.8" fill="#0000ff"/>
<circle cx="635.2" cy="1170.2" r="9.8" fill="#0000ff"/>
<circle cx="589.3" cy="1185.8" r="9.8" fill="#0000ff"/>
<circle cx="650.0" cy="1184.2" r="9.8" fill="#0000ff"/>
<circle cx="640.6" cy="1198.2" r="9.8" fill="#0000ff"/>
<circle cx="681.9" cy="1202.9" r="9.8" fill="#0000ff"/>
<circle cx="654.6" cy="1208.3" r="9.8" fill="#0000ff"/>
<circle cx="624.3" cy="1208.3" r="9.8" fill="#0000ff"/>
<circle cx="588.5" cy="1220.7" r="9.8" fill="#0000ff"/>
<circle cx="681.9" cy="1220.0" r="9.8" fill="#0000ff"/>
<circle cx="625.9" cy="1224.6" r="9.8" fill="#0000ff"/>
<circle cx="574.5" cy="1229.0" r="9.8" fill="#0000ff"/>
<circle cx="636.8" cy="1092.4" r="9.8" fill="#ffa500"/>
<circle cx="693.5" cy="1186.0" r="9.8" fill="#ffa500"/>
<circle cx="652.3" cy="1543.2" r="9.8" fill="#0000ff"/>
<circle cx="638.3" cy="1549.4" r="9.8" fill="#0000ff"/>
<circle cx="690.4" cy="1543.2" r="9.8" fill="#0000ff"/>
<circle cx="613.4" cy="1568.9" r="9.8" fill="#0000ff"/>
<circle cx="638.3" cy="1577.4" r="9.8" fill="#0000ff"/>
<circle cx="657.0" cy="1574.3" r="9.8" fill="#0000ff"/>
<circle cx="687.3" cy="1566.5" r="9.8" fill="#0000ff"/>
<circle cx="692.7" cy="1584.4" r="9.8" fill="#0000ff"/>
<circle cx="604.1" cy="1607.0" r="9.8" fill="#0000ff"/>
<circle cx="640.6" cy="1601.5" r="9.8" fill="#0000ff"/>
<circle cx="667.9" cy="1619.4" r="9.8" fill="#0000ff"/>
<circle cx="678.7" cy="1629.5" r="9.8" fill="#0000ff"/>
<circle cx="686.5" cy="1611.6" r="9.8" fill="#0000ff"/>
<circle cx="608.8" cy="1642.8" r="9.8" fill="#0000ff"/>
<circle cx="611.9" cy="1656.0" r="9.8" fill="#0000ff"/>
<circle cx="658.5" cy="1651.3" r="9.8" fill="#0000ff"/>
<circle cx="691.2" cy="1654.4" r="9.8" fill="#0000ff"/>
<circle cx="626.6" cy="1673.1" r="9.8" fill="#0000ff"/>
<circle cx="643.8" cy="1665.3" r="9.8" fill="#0000ff"/>
<circle cx="666.3" cy="1670.0" r="9.8" fill="#0000ff"/>
<circle cx="672.5" cy="1538.6" r="9.8" fill="#ffa500"/>
<circle cx="698.1" cy="1543.2" r="9.8" fill="#0000ff"/>
<circle cx="714.4" cy="1534.7" r="9.8" fill="#0000ff"/>
<circle cx="730.8" cy="1543.2" r="9.8" fill="#0000ff"/>
<circle cx="747.1" cy="1537.8" r="9.8" fill="#0000ff"/>
<circle cx="765.0" cy="1532.3" r="9.8" fill="#0000ff"/>
<circle cx="780.5" cy="1533.1" r="9.8" fill="#0000ff"/>
<circle cx="796.9" cy="1543.2" r="9.8" fill="#0000ff"/>
<circle cx="830.3" cy="1544.8" r="9.8" fill="#0000ff"/>
<circle cx="710.6" cy="1557.2" r="9.8" fill="#0000ff"/>
<circle cx="729.2" cy="1552.5" r="9.8" fill="#0000ff"/>
<circle cx="765.0" cy="1554.9" r="9.8" fill="#0000ff"/>
<circle cx="819.4" cy="1555.7" r="9.8" fill="#0000ff"/>
<circle cx="717.6" cy="1571.2" r="9.8" fill="#0000ff"/>
<circle cx="746.3" cy="1567.3" r="9.8" fill="#0000ff"/>
<circle cx="800.8" cy="1571.2" r="9.8" fill="#0000ff"/>
<circle cx="838.1" cy="1573.5" r="9.8" fill="#0000ff"/>
<circle cx="736.2" cy="1573.5" r="9.8" fill="#0000ff"/>
<circle cx="699.7" cy="1581.3" r="9.8" fill="#0000ff"/>
<circle cx="751.8" cy="1586.0" r="9.8" fill="#0000ff"/>
<circle cx="721.4" cy="1590.7" r="9.8" fill="#0000ff"/>
<circle cx="795.3" cy="1589.1" r="9.8" fill="#0000ff"/>
<circle cx="809.3" cy="1589.1" r="9.8" fill="#0000ff"/>
<circle cx="701.2" cy="1600.0" r="9.8" fill="#0000ff"/>
<circle cx="769.7" cy="1602.3" r="9.8" fill="#0000ff"/>
<circle cx="796.1" cy="1600.0" r="9.8" fill="#0000ff"/>
<circle cx="811.6" cy="1598.4" r="9.8" fill="#0000ff"/>
<circle cx="706.7" cy="1611.6" r="9.8" fill="#0000ff"/>
<circle cx="726.9" cy="1612.4" r="9.8" fill="#0000ff"/>
<circle cx="772.0" cy="1610.9" r="9.8" fill="#0000ff"/>
<circle cx="814.8" cy="1615.5" r="9.8" fill="#0000ff"/>
<circle cx="835.0" cy="1611.6" r="9.8" fill="#0000ff"/>
<circle cx="716.8" cy="1631.1" r="9.8" fill="#0000ff"/>
<circle cx="746.3" cy="1628.0" r="9.8" fill="#0000ff"/>
<circle cx="788.3" cy="1624.1" r="9.8" fill="#0000ff"/>
<circle cx="808.5" cy="1637.3" r="9.8" fill="#0000ff"/>
<circle cx="835.0" cy="1633.4" r="9.8" fill="#0000ff"/>
<circle cx="788.3" cy="1638.9" r="9.8" fill="#0000ff"/>
<circle cx="723.0" cy="1649.0" r="9.8" fill="#0000ff"/>
<circle cx="740.9" cy="1648.2" r="9.8" fill="#0000ff"/>
<circle cx="768.9" cy="1651.3" r="9.8" fill="#0000ff"/>
<circle cx="792.2" cy="1652.1" r="9.8" fill="#0000ff"/>
<circle cx="696.6" cy="1654.4" r="9.8" fill="#0000ff"/>
<circle cx="723.0" cy="1673.1" r="9.8" fill="#0000ff"/>
<circle cx="743.2" cy="1670.0" r="9.8" fill="#0000ff"/>
<circle cx="772.0" cy="1673.9" r="9.8" fill="#0000ff"/>
<circle cx="796.1" cy="1673.9" r="9.8" fill="#0000ff"/>
<circle cx="823.3" cy="1675.4" r="9.8" fill="#0000ff"/>
<circle cx="838.9" cy="1666.1" r="9.8" fill="#0000ff"/>
<circle cx="816.3" cy="1576.7" r="9.8" fill="#ffa500"/>
<circle cx="576.1" cy="1238.6" r="9.8" fill="#0000ff"/>
<circle cx="599.4" cy="1240.1" r="9.8" fill="#0000ff"/>
<circle cx="628.2" cy="1236.2" r="9.8" fill="#0000ff"/>
<circle cx="597.9" cy="1258.8" r="9.8" fill="#0000ff"/>
<circle cx="628.2" cy="1260.3" r="9.8" fill="#0000ff"/>
<circle cx="646.9" cy="1262.7" r="9.8" fill="#0000ff"/>
<circle cx="692.7" cy="1261.1" r="9.8" fill="#0000ff"/>
<circle cx="601.8" cy="1279.8" r="9.8" fill="#0000ff"/>
<circle cx="619.6" cy="1278.2" r="9.8" fill="#0000ff"/>
<circle cx="657.0" cy="1275.9" r="9.8" fill="#0000ff"/>
<circle cx="677.2" cy="1278.2" r="9.8" fill="#0000ff"/>
<circle cx="593.2" cy="1292.2" r="9.8" fill="#0000ff"/>
<circle cx="639.9" cy="1300.0" r="9.8" fill="#0000ff"/>
<circle cx="666.3" cy="1293.8" r="9.8" fill="#0000ff"/>
<circle cx="682.6" cy="1301.5" r="9.8" fill="#0000ff"/>
<circle cx="611.1" cy="1304.6" r="9.8" fill="#0000ff"/>
<circle cx="602.5" cy="1318.6" r="9.8" fill="#0000ff"/>
<circle cx="636.8" cy="1317.1" r="9.8" fill="#0000ff"/>
<circle cx="614.2" cy="1337.3" r="9.8" fill="#0000ff"/>
<circle cx="664.0" cy="1336.5" r="9.8" fill="#0000ff"/>
<circle cx="599.4" cy="1342.0" r="9.8" fill="#0000ff"/>
<circle cx="631.3" cy="1335.0" r="9.8" fill="#0000ff"/>
<circle cx="607.2" cy="1361.4" r="9.8" fill="#0000ff"/>
<circle cx="645.3" cy="1359.9" r="9.8" fill="#0000ff"/>
<circle cx="621.2" cy="1370.0" r="9.8" fill="#0000ff"/>
<circle cx="692.7" cy="1366.1" r="9.8" fill="#0000ff"/>
<circle cx="632.9" cy="1375.4" r="9.8" fill="#0000ff"/>
<circle cx="685.0" cy="1233.0" r="9.8" fill="#0000ff"/>
<circle cx="686.5" cy="1346.6" r="9.8" fill="#ffa500"/>
<circle cx="719.1" cy="1243.2" r="9.8" fill="#0000ff"/>
<circle cx="758.8" cy="1240.1" r="9.8" fill="#0000ff"/>
<circle cx="702.8" cy="1255.7" r="9.8" fill="#0000ff"/>
<circle cx="728.4" cy="1265.0" r="9.8" fill="#0000ff"/>
<circle cx="746.3" cy="1262.7" r="9.8" fill="#0000ff"/>
<circle cx="708.2" cy="1273.5" r="9.8" fill="#0000ff"/>
<circle cx="696.6" cy="1270.4" r="9.8" fill="#0000ff"/>
<circle cx="785.2" cy="1304.6" r="9.8" fill="#0000ff"/>
<circle cx="789.1" cy="1320.2" r="9.8" fill="#0000ff"/>
<circle cx="709.0" cy="1324.1" r="9.8" fill="#0000ff"/>
<circle cx="747.1" cy="1343.5" r="9.8" fill="#0000ff"/>
<circle cx="747.9" cy="1357.5" r="9.8" fill="#0000ff"/>
<circle cx="716.0" cy="1361.4" r="9.8" fill="#0000ff"/>
<circle cx="772.8" cy="1370.0" r="9.8" fill="#0000ff"/>
<circle cx="830.1" cy="1378.0" r="9.8" fill="#0000ff"/>
<circle cx="825.6" cy="1346.6" r="9.8" fill="#ffa500"/>
<circle cx="607.2" cy="1382.3" r="9.8" fill="#0000ff"/>
<circle cx="635.2" cy="1383.9" r="9.8" fill="#0000ff"/>
<circle cx="655.4" cy="1393.2" r="9.8" fill="#0000ff"/>
<circle cx="683.4" cy="1384.7" r="9.8" fill="#0000ff"/>
<circle cx="619.6" cy="1404.9" r="9.8" fill="#0000ff"/>
<circle cx="594.0" cy="1417.3" r="9.8" fill="#0000ff"/>
<circle cx="641.4" cy="1416.5" r="9.8" fill="#0000ff"/>
<circle cx="657.8" cy="1422.8" r="9.8" fill="#0000ff"/>
<circle cx="685.0" cy="1416.5" r="9.8" fill="#0000ff"/>
<circle cx="608.0" cy="1430.5" r="9.8" fill="#0000ff"/>
<circle cx="624.3" cy="1448.4" r="9.8" fill="#0000ff"/>
<circle cx="662.4" cy="1458.5" r="9.8" fill="#0000ff"/>
<circle cx="687.3" cy="1465.5" r="9.8" fill="#0000ff"/>
<circle cx="692.7" cy="1442.2" r="9.8" fill="#0000ff"/>
<circle cx="617.3" cy="1462.4" r="9.8" fill="#0000ff"/>
<circle cx="637.5" cy="1476.4" r="9.8" fill="#0000ff"/>
<circle cx="675.6" cy="1481.1" r="9.8" fill="#0000ff"/>
<circle cx="622.0" cy="1493.5" r="9.8" fill="#0000ff"/>
<circle cx="688.9" cy="1506.0" r="9.8" fill="#0000ff"/>
<circle cx="608.8" cy="1514.5" r="9.8" fill="#0000ff"/>
<circle cx="638.3" cy="1516.9" r="9.8" fill="#0000ff"/>
<circle cx="653.9" cy="1520.0" r="9.8" fill="#0000ff"/>
<circle cx="691.2" cy="1520.0" r="9.8" fill="#0000ff"/>
<circle cx="664.0" cy="1441.4" r="9.8" fill="#ffa500"/>
<circle cx="654.6" cy="1492.0" r="9.8" fill="#ffa500"/>
<circle cx="670.2" cy="1503.6" r="9.8" fill="#ffa500"/>
<circle cx="709.0" cy="1390.1" r="9.8" fill="#0000ff"/>
<circle cx="722.2" cy="1391.7" r="9.8" fill="#0000ff"/>
<circle cx="755.7" cy="1389.3" r="9.8" fill="#0000ff"/>
<circle cx="830.3" cy="1383.1" r="9.8" fill="#0000ff"/>
<circle cx="795.3" cy="1415.0" r="9.8" fill="#0000ff"/>
<circle cx="710.6" cy="1415.0" r="9.8" fill="#0000ff"/>
<circle cx="723.0" cy="1415.8" r="9.8" fill="#0000ff"/>
<circle cx="745.5" cy="1411.1" r="9.8" fill="#0000ff"/>
<circle cx="723.0" cy="1436.0" r="9.8" fill="#0000ff"/>
<circle cx="700.4" cy="1446.1" r="9.8" fill="#0000ff"/>
<circle cx="749.4" cy="1446.1" r="9.8" fill="#0000ff"/>
<circle cx="759.5" cy="1457.0" r="9.8" fill="#0000ff"/>
<circle cx="731.5" cy="1469.4" r="9.8" fill="#0000ff"/>
<circle cx="761.9" cy="1475.6" r="9.8" fill="#0000ff"/>
<circle cx="838.9" cy="1454.7" r="9.8" fill="#0000ff"/>
<circle cx="807.0" cy="1481.9" r="9.8" fill="#0000ff"/>
<circle cx="716.8" cy="1490.4" r="9.8" fill="#0000ff"/>
<circle cx="744.8" cy="1490.4" r="9.8" fill="#0000ff"/>
<circle cx="762.7" cy="1496.6" r="9.8" fill="#0000ff"/>
<circle cx="831.1" cy="1494.3" r="9.8" fill="#0000ff"/>
<circle cx="841.2" cy="1487.3" r="9.8" fill="#0000ff"/>
<circle cx="701.2" cy="1509.1" r="9.8" fill="#0000ff"/>
<circle cx="726.9" cy="1514.5" r="9.8" fill="#0000ff"/>
<circle cx="760.3" cy="1524.6" r="9.8" fill="#0000ff"/>
<circle cx="776.6" cy="1524.6" r="9.8" fill="#0000ff"/>
<circle cx="793.8" cy="1521.5" r="9.8" fill="#0000ff"/>
<circle cx="714.4" cy="1526.2" r="9.8" fill="#0000ff"/>
<circle cx="818.6" cy="1404.9" r="9.8" fill="#ffa500"/>
<circle cx="717.6" cy="1457.0" r="9.8" fill="#ffa500"/>
<circle cx="722.5" cy="1676.2" r="9.8" fill="#0000ff"/>
<circle cx="745.0" cy="1673.1" r="9.8" fill="#0000ff"/>
<circle cx="772.2" cy="1676.2" r="9.8" fill="#0000ff"/>
<circle cx="795.5" cy="1676.2" r="9.8" fill="#0000ff"/>
<circle cx="821.1" cy="1681.6" r="9.8" fill="#0000ff"/>
<circle cx="835.9" cy="1674.7" r="9.8" fill="#0000ff"/>
<circle cx="734.9" cy="1687.9" r="9.8" fill="#0000ff"/>
<circle cx="768.3" cy="1698.0" r="9.8" fill="#0000ff"/>
<circle cx="788.5" cy="1693.3" r="9.8" fill="#0000ff"/>
<circle cx="723.3" cy="1699.5" r="9.8" fill="#0000ff"/>
<circle cx="707.0" cy="1685.5" r="9.8" fill="#0000ff"/>
<circle cx="723.3" cy="1707.3" r="9.8" fill="#0000ff"/>
<circle cx="744.3" cy="1710.4" r="9.8" fill="#0000ff"/>
<circle cx="760.6" cy="1718.1" r="9.8" fill="#0000ff"/>
<circle cx="778.4" cy="1716.6" r="9.8" fill="#0000ff"/>
<circle cx="797.0" cy="1724.3" r="9.8" fill="#0000ff"/>
<circle cx="825.8" cy="1711.9" r="9.8" fill="#0000ff"/>
<circle cx="845.2" cy="1719.7" r="9.8" fill="#0000ff"/>
<circle cx="702.3" cy="1711.9" r="9.8" fill="#0000ff"/>
<circle cx="715.5" cy="1722.8" r="9.8" fill="#0000ff"/>
<circle cx="707.0" cy="1741.4" r="9.8" fill="#0000ff"/>
<circle cx="725.6" cy="1739.9" r="9.8" fill="#0000ff"/>
<circle cx="747.4" cy="1738.3" r="9.8" fill="#0000ff"/>
<circle cx="776.9" cy="1736.8" r="9.8" fill="#0000ff"/>
<circle cx="807.9" cy="1731.3" r="9.8" fill="#0000ff"/>
<circle cx="836.6" cy="1736.8" r="9.8" fill="#0000ff"/>
<circle cx="800.9" cy="1747.6" r="9.8" fill="#0000ff"/>
<circle cx="703.1" cy="1759.6" r="9.8" fill="#0000ff"/>
<circle cx="722.5" cy="1759.6" r="9.8" fill="#0000ff"/>
<circle cx="748.1" cy="1759.6" r="9.8" fill="#0000ff"/>
<circle cx="769.9" cy="1759.3" r="9.8" fill="#0000ff"/>
<circle cx="790.8" cy="1760.0" r="9.8" fill="#0000ff"/>
<circle cx="808.7" cy="1759.6" r="9.8" fill="#0000ff"/>
<circle cx="839.8" cy="1759.6" r="9.8" fill="#0000ff"/>
<circle cx="823.4" cy="1760.0" r="9.8" fill="#0000ff"/>
<circle cx="777.6" cy="1751.5" r="9.8" fill="#0000ff"/>
</g></g>
<g clip-path="url(#ca)" fill="none" stroke-width="7.5" stroke-opacity="0.88" stroke-dasharray="28.4 12.25">
<line x1="331.5" y1="982.7" x2="1212" y2="982.7" stroke="#dc24dc"/>
<line x1="331.5" y1="1371.8" x2="1212" y2="1371.8" stroke="#cf2038"/>
<line x1="331.5" y1="1661.8" x2="1212" y2="1661.8" stroke="#258a28"/>
</g>
<g>
<rect x="594.5" y="239.5" width="590" height="187.5" rx="33" ry="33" fill="#ececf2" fill-opacity="0.93" stroke="none"/>
<rect x="773" y="243.5" width="408" height="155.5" fill="#f4f4f5"/>
<rect x="594.5" y="239.5" width="590" height="187.5" rx="33" ry="33" fill="none" stroke="#141414" stroke-width="3.6"/>
<circle cx="680" cy="291" r="18" fill="#0000ff" stroke="#ffffff" stroke-width="1.5"/>
<circle cx="680" cy="377" r="18" fill="#ffa500" stroke="#ffffff" stroke-width="1.5"/>
</g>
<text transform="translate(807.62,298.60) scale(1.0568,1)" font-family="'Liberation Sans', Arial, sans-serif" font-size="40.00" fill="#111">Non-perovskite</text>
<text transform="translate(806.20,368.00) scale(1.0960,1)" font-family="'Liberation Sans', Arial, sans-serif" font-size="37.68" fill="#111">Perovskite</text>
<text transform="translate(1056.78,965.37) scale(0.9878,1)" font-family="'Liberation Sans', Arial, sans-serif" font-size="63.38" fill="#d21ee0">91%</text>
<text transform="translate(1056.84,1351.32) scale(0.9074,1)" font-family="'Liberation Sans', Arial, sans-serif" font-size="67.61" fill="#cf1e3c">85.4%</text>
<text transform="translate(1056.49,1644.04) scale(0.9371,1)" font-family="'Liberation Sans', Arial, sans-serif" font-size="66.48" fill="#2f7d2f">66%</text>
<text transform="translate(218.51,1651.00) scale(0.8140,1)" font-family="'Liberation Sans', Arial, sans-serif" font-size="65.94" fill="#1e8a5a">Ec</text>
<text transform="translate(314.70,1653.63) scale(1.2614,1)" font-family="'Liberation Sans', Arial, sans-serif" font-size="52.31" fill="#6f8f6f">=</text>
<text transform="translate(367.33,1649.36) scale(0.9643,1)" font-family="'Liberation Sans', Arial, sans-serif" font-size="64.08" fill="#3a7a3a">50meV</text>
<text transform="translate(125.58,98.05) scale(0.9697,1)" font-family="'Liberation Sans', Arial, sans-serif" font-size="75.94" fill="#000">(a)</text>
<text transform="translate(1211.31,97.28) scale(1.0443,1)" font-family="'Liberation Sans', Arial, sans-serif" font-size="74.87" fill="#000">(b)</text>
<text transform="translate(154.99,230.35) scale(1.0322,1)" font-family="'Liberation Sans', Arial, sans-serif" font-size="64.79" fill="#000">800</text>
<text transform="translate(155.68,430.36) scale(1.0347,1)" font-family="'Liberation Sans', Arial, sans-serif" font-size="64.23" fill="#000">700</text>
<text transform="translate(155.68,617.75) scale(1.0169,1)" font-family="'Liberation Sans', Arial, sans-serif" font-size="65.35" fill="#000">600</text>
<text transform="translate(155.33,814.35) scale(1.0290,1)" font-family="'Liberation Sans', Arial, sans-serif" font-size="64.79" fill="#000">500</text>
<text transform="translate(156.68,1004.35) scale(1.0162,1)" font-family="'Liberation Sans', Arial, sans-serif" font-size="64.79" fill="#000">400</text>
<text transform="translate(155.33,1194.37) scale(1.0519,1)" font-family="'Liberation Sans', Arial, sans-serif" font-size="63.38" fill="#000">300</text>
<text transform="translate(154.65,1389.35) scale(1.0266,1)" font-family="'Liberation Sans', Arial, sans-serif" font-size="65.35" fill="#000">200</text>
<text transform="translate(163.08,1566.34) scale(0.9909,1)" font-family="'Liberation Sans', Arial, sans-serif" font-size="66.20" fill="#000">100</text>
<text transform="translate(230.25,1777.01) scale(1.1622,1)" font-family="'Liberation Sans', Arial, sans-serif" font-size="59.15" fill="#000">0</text>
<text transform="translate(355.49,1925.28) scale(1.0468,1)" font-family="'Liberation Sans', Arial, sans-serif" font-size="71.83" fill="#000">0.8</text>
<text transform="translate(591.54,1925.28) scale(1.0294,1)" font-family="'Liberation Sans', Arial, sans-serif" font-size="71.83" fill="#000">0.9</text>
<text transform="translate(742.38,1925.28) scale(1.0441,1)" font-family="'Liberation Sans', Arial, sans-serif" font-size="71.83" fill="#000">1.0</text>
<text transform="translate(939.08,1926.00) scale(0.9950,1)" font-family="'Liberation Sans', Arial, sans-serif" font-size="73.91" fill="#000">1.1</text>
<text transform="translate(1160.31,1926.00) scale(1.0416,1)" font-family="'Liberation Sans', Arial, sans-serif" font-size="72.86" fill="#000">1.2</text>
<text transform="translate(469.51,2019.60) scale(0.9672,1)" font-family="'Liberation Sans', Arial, sans-serif" font-size="76.81" fill="#000">Tolerance Factor,</text>
<text transform="translate(1040.33,2018.86) scale(1.4083,1)" font-family="'Liberation Sans', Arial, sans-serif" font-style="italic" font-size="73.64" fill="#000">t</text>
<text transform="translate(101.00,1488.79) rotate(-90) scale(0.9894,1)" font-family="'Liberation Sans', Arial, sans-serif" font-size="73.19" fill="#000">Energy above hull, E</text>
<text transform="translate(120.50,817.05) rotate(-90) scale(0.8655,1)" font-family="'Liberation Sans', Arial, sans-serif" font-size="50.34" fill="#000">h</text>
<text transform="translate(101.00,772.44) rotate(-90) scale(0.9585,1)" font-family="'Liberation Sans', Arial, sans-serif" font-size="77.24" fill="#000">(meV)</text>
<rect x="1426" y="213" width="602" height="1594" fill="#eaeaf2"/>
<g stroke="#fafafd" stroke-width="3" clip-path="url(#cb)">
<line x1="1580" y1="213" x2="1580" y2="1807"/>
<line x1="1816" y1="213" x2="1816" y2="1807"/>
<line x1="1426" y1="412" x2="2028" y2="412"/>
<line x1="1426" y1="613" x2="2028" y2="613"/>
<line x1="1426" y1="809" x2="2028" y2="809"/>
<line x1="1426" y1="1009" x2="2028" y2="1009"/>
<line x1="1426" y1="1206" x2="2028" y2="1206"/>
<line x1="1426" y1="1406" x2="2028" y2="1406"/>
<line x1="1426" y1="1606" x2="2028" y2="1606"/>
</g>
<rect x="1430" y="213" width="31" height="91" fill="#ffa500"/>
<rect x="1430" y="315" width="31" height="94" fill="#0000ff"/>
<rect x="1429" y="413" width="129" height="94" fill="#ffa500"/>
<rect x="1566" y="413" width="14" height="94" fill="#0000ff"/>
<rect x="1429" y="511" width="83" height="96" fill="#ffa500"/>
<rect x="1520" y="511" width="28" height="96" fill="#0000ff"/>
<rect x="1429" y="615" width="142" height="91" fill="#ffa500"/>
<rect x="1580" y="615" width="35" height="91" fill="#0000ff"/>
<rect x="1429" y="714" width="83" height="89" fill="#ffa500"/>
<rect x="1520" y="714" width="61" height="89" fill="#0000ff"/>
<rect x="1429" y="814" width="103" height="87" fill="#ffa500"/>
<rect x="1538" y="814" width="76" height="87" fill="#0000ff"/>
<rect x="1429" y="913" width="83" height="92" fill="#ffa500"/>
<rect x="1520" y="913" width="94" height="92" fill="#0000ff"/>
<rect x="1429" y="1011" width="119" height="92" fill="#0000ff"/>
<rect x="1429" y="1108" width="104" height="93" fill="#ffa500"/>
<rect x="1538" y="1108" width="165" height="93" fill="#0000ff"/>
<rect x="1429" y="1207" width="32" height="96" fill="#ffa500"/>
<rect x="1467" y="1207" width="233" height="96" fill="#0000ff"/>
<rect x="1429" y="1312" width="61" height="90" fill="#ffa500"/>
<rect x="1498" y="1312" width="238" height="90" fill="#0000ff"/>
<rect x="1429" y="1410" width="86" height="90" fill="#ffa500"/>
<rect x="1520" y="1410" width="234" height="90" fill="#0000ff"/>
<rect x="1430" y="1510" width="61" height="93" fill="#ffa500"/>
<rect x="1499" y="1510" width="267" height="93" fill="#0000ff"/>
<rect x="1430" y="1608" width="104" height="94" fill="#ffa500"/>
<rect x="1538" y="1608" width="268" height="94" fill="#0000ff"/>
<rect x="1430" y="1707" width="299" height="93" fill="#ffa500"/>
<rect x="1736" y="1707" width="268" height="93" fill="#0000ff"/>
<rect x="1554.5" y="220.5" width="467" height="163" rx="26" ry="26" fill="#f4f4f6"/>
<path d="M1669,222 L1580,222 Q1556,222 1556,246 L1556,358 Q1556,382 1580,382 L1669,382 Z" fill="#e6e6ee"/>
<line x1="1565" y1="233.5" x2="1667" y2="233.5" stroke="#d2d2da" stroke-width="3"/>
<rect x="1554.5" y="220.5" width="467" height="163" rx="26" ry="26" fill="none" stroke="#141414" stroke-width="3.6"/>
<rect x="1574" y="259" width="79" height="22" fill="#ffa500"/>
<rect x="1574" y="324" width="79" height="20" fill="#0000ff"/>
<text transform="translate(1702.24,287.00) scale(1.0357,1)" font-family="'Liberation Sans', Arial, sans-serif" font-size="40.58" fill="#111">Non-perovskite</text>
<text transform="translate(1699.18,354.40) scale(1.0753,1)" font-family="'Liberation Sans', Arial, sans-serif" font-size="38.55" fill="#111">Perovskite</text>
<text transform="translate(1265.76,234.67) scale(1.0323,1)" font-family="'Liberation Sans', Arial, sans-serif" font-size="63.38" fill="#000">800</text>
<text transform="translate(1265.42,428.35) scale(1.0043,1)" font-family="'Liberation Sans', Arial, sans-serif" font-size="65.35" fill="#000">700</text>
<text transform="translate(1266.14,629.56) scale(1.0128,1)" font-family="'Liberation Sans', Arial, sans-serif" font-size="64.37" fill="#000">600</text>
<text transform="translate(1266.40,827.66) scale(1.0103,1)" font-family="'Liberation Sans', Arial, sans-serif" font-size="64.37" fill="#000">500</text>
<text transform="translate(1266.70,1027.56) scale(1.0074,1)" font-family="'Liberation Sans', Arial, sans-serif" font-size="64.37" fill="#000">400</text>
<text transform="translate(1266.40,1230.65) scale(0.9951,1)" font-family="'Liberation Sans', Arial, sans-serif" font-size="65.35" fill="#000">300</text>
<text transform="translate(1265.73,1426.05) scale(1.0014,1)" font-family="'Liberation Sans', Arial, sans-serif" font-size="65.35" fill="#000">200</text>
<text transform="translate(1266.00,1622.66) scale(1.0141,1)" font-family="'Liberation Sans', Arial, sans-serif" font-size="64.37" fill="#000">100</text>
<text transform="translate(1338.62,1826.46) scale(1.0849,1)" font-family="'Liberation Sans', Arial, sans-serif" font-size="63.94" fill="#000">0</text>
<text transform="translate(1508.75,1924.32) scale(1.0354,1)" font-family="'Liberation Sans', Arial, sans-serif" font-size="67.61" fill="#000">10</text>
<text transform="translate(1596.07,1900.00) scale(0.7931,1)" font-family="'Liberation Sans', Arial, sans-serif" font-size="49.28" fill="#000">1</text>
<text transform="translate(1776.60,1924.32) scale(1.0650,1)" font-family="'Liberation Sans', Arial, sans-serif" font-size="67.61" fill="#000">10</text>
<text transform="translate(1852.92,1900.00) scale(1.2670,1)" font-family="'Liberation Sans', Arial, sans-serif" font-size="48.57" fill="#000">2</text>
<text transform="translate(1445.26,2019.00) scale(0.9703,1)" font-family="'Liberation Sans', Arial, sans-serif" font-size="73.91" fill="#000">Log (Frequency)</text>
</svg></body></html>
